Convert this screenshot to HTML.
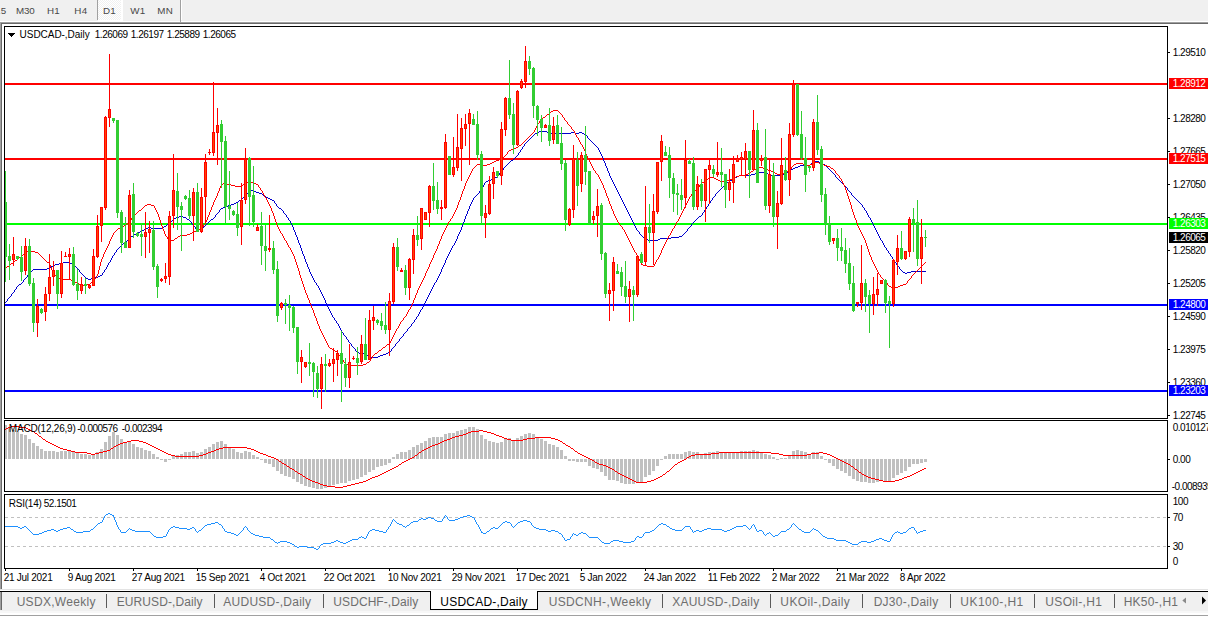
<!DOCTYPE html>
<html><head><meta charset="utf-8"><title>USDCAD-,Daily</title>
<style>
html,body{margin:0;padding:0;}
body{width:1208px;height:618px;background:#fff;position:relative;overflow:hidden;font-family:"Liberation Sans",sans-serif;}
div{position:absolute;box-sizing:border-box;}
#tb{left:0;top:0;width:1208px;height:21px;background:#f0f0f0;}
#tbl0{left:0;top:21px;width:1208px;height:1px;background:#fff;}
#tbl{left:0;top:22px;width:1208px;height:1px;background:#a0a0a0;}
#tbl2{left:0;top:23px;width:1208px;height:1px;background:#696969;}
#lft{left:0;top:23px;width:2px;height:566px;background:#696969;border-left:1px solid #a0a0a0;}
#lft2{left:0;top:592px;width:2px;height:18px;background:#696969;border-left:1px solid #a0a0a0;}
#d1{left:98px;top:0;width:25px;height:22px;background:repeating-conic-gradient(#ffffff 0% 25%,#f0f0f0 0% 50%) 0 0/2px 2px;border-right:2px solid #fff;border-bottom:2px solid #fff;}
.vs{top:0;width:1px;height:20px;background:#a0a0a0;}
.vw{top:0;width:1px;height:20px;background:#fff;}
.box{border:1px solid #000;background:transparent;}
.tk{left:1168px;width:2px;height:1px;background:#000;}
.tag{left:1169px;width:39px;height:11px;}
.t{white-space:pre;}
.dtk{top:568px;width:1px;height:3px;background:#000;}
#tabs{left:0;top:591px;width:1208px;height:20px;background:#f0f0f0;border-top:1px solid #000;}
#tabsTop{left:0px;top:589px;width:1208px;height:1px;background:#e3e3e3;}
.tsep{top:594px;width:1px;height:14px;background:#5a5a5a;}
#act{left:430px;top:591px;width:108px;height:19px;background:#fff;border:1px solid #000;border-top:none;}
#bot{left:0;top:611px;width:1208px;height:7px;background:#fff;border-top:2px solid #f7f7f7;}
#botl{left:0;top:615px;width:1208px;height:1px;background:#a0a0a0;}
svg{position:absolute;left:0;top:0;}
</style></head><body>
<div id="tb"></div><div id="tbl0"></div><div id="tbl"></div><div id="tbl2"></div>
<div id="d1"></div>
<div class="vs" style="left:97px"></div><div class="vs" style="left:180px;height:22px"></div><div class="vw" style="left:181px"></div>
<svg width="1208" height="618" viewBox="0 0 1208 618" shape-rendering="crispEdges">
<g>
<rect x="5" y="83" width="1163" height="2" fill="#ff0000"/>
<rect x="5" y="158" width="1163" height="2" fill="#ff0000"/>
<rect x="5" y="223" width="1163" height="2" fill="#00ff00"/>
<rect x="5" y="304" width="1163" height="2" fill="#0000ff"/>
<rect x="5" y="390" width="1163" height="2" fill="#0000ff"/>
</g>
<path d="M539 131h8v1h-8zM537 132h2v1h-2zM547 132h4v1h-4zM571 132h4v1h-4zM579 132h3v1h-3zM535 133h2v1h-2zM551 133h20v1h-20zM575 133h4v1h-4zM582 133h2v1h-2zM534 134h1v1h-1zM584 134h2v1h-2zM533 135h1v1h-1zM586 135h1v1h-1zM532 136h1v1h-1zM587 136h1v1h-1zM531 137h1v1h-1zM587 137h1v1h-1zM530 138h1v1h-1zM588 138h1v1h-1zM529 139h1v1h-1zM589 139h1v1h-1zM528 140h1v1h-1zM590 140h1v1h-1zM527 141h1v1h-1zM591 141h1v1h-1zM526 142h1v1h-1zM592 142h1v1h-1zM525 143h1v1h-1zM593 143h1v1h-1zM524 144h1v1h-1zM594 144h1v1h-1zM524 145h1v1h-1zM595 145h1v1h-1zM523 146h1v1h-1zM596 146h1v1h-1zM522 147h1v1h-1zM597 147h1v1h-1zM522 148h1v1h-1zM598 148h1v1h-1zM521 149h1v1h-1zM598 149h1v1h-1zM520 150h1v1h-1zM599 150h1v1h-1zM520 151h1v1h-1zM599 151h1v1h-1zM519 152h1v1h-1zM600 152h1v1h-1zM518 153h1v1h-1zM600 153h1v1h-1zM518 154h1v1h-1zM601 154h1v1h-1zM517 155h1v1h-1zM601 155h1v1h-1zM516 156h1v1h-1zM602 156h1v1h-1zM515 157h1v1h-1zM602 157h1v1h-1zM514 158h1v1h-1zM603 158h1v1h-1zM513 159h1v1h-1zM603 159h1v1h-1zM511 160h2v1h-2zM603 160h1v1h-1zM510 161h1v1h-1zM604 161h1v1h-1zM813 161h6v1h-6zM509 162h1v1h-1zM604 162h1v1h-1zM812 162h1v1h-1zM819 162h3v1h-3zM508 163h1v1h-1zM605 163h1v1h-1zM811 163h1v1h-1zM822 163h1v1h-1zM507 164h1v1h-1zM605 164h1v1h-1zM810 164h1v1h-1zM823 164h2v1h-2zM506 165h1v1h-1zM605 165h1v1h-1zM800 165h10v1h-10zM825 165h1v1h-1zM505 166h1v1h-1zM606 166h1v1h-1zM798 166h2v1h-2zM826 166h1v1h-1zM504 167h1v1h-1zM606 167h1v1h-1zM795 167h3v1h-3zM827 167h1v1h-1zM503 168h1v1h-1zM607 168h1v1h-1zM793 168h2v1h-2zM828 168h1v1h-1zM503 169h1v1h-1zM607 169h1v1h-1zM791 169h2v1h-2zM829 169h1v1h-1zM502 170h1v1h-1zM607 170h1v1h-1zM790 170h1v1h-1zM830 170h1v1h-1zM501 171h1v1h-1zM608 171h1v1h-1zM788 171h2v1h-2zM831 171h1v1h-1zM500 172h1v1h-1zM608 172h1v1h-1zM759 172h7v1h-7zM786 172h2v1h-2zM832 172h1v1h-1zM499 173h1v1h-1zM609 173h1v1h-1zM755 173h4v1h-4zM766 173h2v1h-2zM784 173h2v1h-2zM833 173h1v1h-1zM499 174h1v1h-1zM609 174h1v1h-1zM751 174h4v1h-4zM768 174h3v1h-3zM782 174h2v1h-2zM834 174h1v1h-1zM498 175h1v1h-1zM609 175h1v1h-1zM739 175h12v1h-12zM771 175h11v1h-11zM835 175h1v1h-1zM497 176h1v1h-1zM610 176h1v1h-1zM737 176h2v1h-2zM835 176h1v1h-1zM495 177h2v1h-2zM610 177h1v1h-1zM735 177h2v1h-2zM836 177h1v1h-1zM494 178h1v1h-1zM611 178h1v1h-1zM734 178h1v1h-1zM837 178h1v1h-1zM491 179h3v1h-3zM611 179h1v1h-1zM732 179h2v1h-2zM838 179h1v1h-1zM488 180h3v1h-3zM612 180h1v1h-1zM730 180h2v1h-2zM839 180h1v1h-1zM486 181h2v1h-2zM612 181h1v1h-1zM729 181h1v1h-1zM840 181h1v1h-1zM485 182h1v1h-1zM613 182h1v1h-1zM727 182h2v1h-2zM841 182h1v1h-1zM484 183h1v1h-1zM613 183h1v1h-1zM726 183h1v1h-1zM842 183h1v1h-1zM484 184h1v1h-1zM614 184h1v1h-1zM725 184h1v1h-1zM843 184h1v1h-1zM483 185h1v1h-1zM614 185h1v1h-1zM724 185h1v1h-1zM844 185h1v1h-1zM483 186h1v1h-1zM615 186h1v1h-1zM723 186h1v1h-1zM845 186h1v1h-1zM482 187h1v1h-1zM615 187h1v1h-1zM722 187h1v1h-1zM846 187h1v1h-1zM482 188h1v1h-1zM616 188h1v1h-1zM721 188h1v1h-1zM847 188h1v1h-1zM481 189h1v1h-1zM616 189h1v1h-1zM720 189h1v1h-1zM847 189h1v1h-1zM251 190h3v1h-3zM480 190h1v1h-1zM617 190h1v1h-1zM719 190h1v1h-1zM848 190h1v1h-1zM249 191h2v1h-2zM254 191h2v1h-2zM479 191h1v1h-1zM617 191h1v1h-1zM718 191h1v1h-1zM849 191h1v1h-1zM248 192h1v1h-1zM256 192h3v1h-3zM479 192h1v1h-1zM618 192h1v1h-1zM717 192h1v1h-1zM850 192h1v1h-1zM247 193h1v1h-1zM259 193h3v1h-3zM478 193h1v1h-1zM618 193h1v1h-1zM716 193h1v1h-1zM851 193h1v1h-1zM246 194h1v1h-1zM262 194h1v1h-1zM477 194h1v1h-1zM619 194h1v1h-1zM715 194h1v1h-1zM851 194h1v1h-1zM245 195h1v1h-1zM263 195h2v1h-2zM476 195h1v1h-1zM619 195h1v1h-1zM715 195h1v1h-1zM852 195h1v1h-1zM244 196h1v1h-1zM265 196h1v1h-1zM475 196h1v1h-1zM620 196h1v1h-1zM714 196h1v1h-1zM853 196h1v1h-1zM243 197h1v1h-1zM266 197h2v1h-2zM474 197h1v1h-1zM620 197h1v1h-1zM713 197h1v1h-1zM854 197h1v1h-1zM242 198h1v1h-1zM268 198h2v1h-2zM473 198h1v1h-1zM621 198h1v1h-1zM712 198h1v1h-1zM855 198h1v1h-1zM241 199h1v1h-1zM270 199h2v1h-2zM473 199h1v1h-1zM621 199h1v1h-1zM712 199h1v1h-1zM856 199h1v1h-1zM239 200h2v1h-2zM272 200h2v1h-2zM472 200h1v1h-1zM622 200h1v1h-1zM711 200h1v1h-1zM857 200h1v1h-1zM238 201h1v1h-1zM274 201h1v1h-1zM472 201h1v1h-1zM622 201h1v1h-1zM710 201h1v1h-1zM858 201h1v1h-1zM236 202h2v1h-2zM274 202h1v1h-1zM471 202h1v1h-1zM623 202h1v1h-1zM710 202h1v1h-1zM859 202h1v1h-1zM234 203h2v1h-2zM275 203h1v1h-1zM471 203h1v1h-1zM623 203h1v1h-1zM709 203h1v1h-1zM860 203h1v1h-1zM231 204h3v1h-3zM276 204h1v1h-1zM470 204h1v1h-1zM624 204h1v1h-1zM708 204h1v1h-1zM861 204h1v1h-1zM228 205h3v1h-3zM276 205h1v1h-1zM470 205h1v1h-1zM624 205h1v1h-1zM708 205h1v1h-1zM862 205h1v1h-1zM226 206h2v1h-2zM277 206h1v1h-1zM469 206h1v1h-1zM625 206h1v1h-1zM707 206h1v1h-1zM862 206h1v1h-1zM223 207h3v1h-3zM278 207h1v1h-1zM469 207h1v1h-1zM625 207h1v1h-1zM706 207h1v1h-1zM863 207h1v1h-1zM221 208h2v1h-2zM279 208h2v1h-2zM469 208h1v1h-1zM626 208h1v1h-1zM706 208h1v1h-1zM864 208h1v1h-1zM220 209h1v1h-1zM281 209h1v1h-1zM468 209h1v1h-1zM626 209h1v1h-1zM705 209h1v1h-1zM864 209h1v1h-1zM219 210h1v1h-1zM282 210h1v1h-1zM468 210h1v1h-1zM627 210h1v1h-1zM704 210h1v1h-1zM865 210h1v1h-1zM219 211h1v1h-1zM283 211h1v1h-1zM467 211h1v1h-1zM627 211h1v1h-1zM704 211h1v1h-1zM866 211h1v1h-1zM218 212h1v1h-1zM283 212h1v1h-1zM467 212h1v1h-1zM628 212h1v1h-1zM703 212h1v1h-1zM866 212h1v1h-1zM217 213h1v1h-1zM284 213h1v1h-1zM467 213h1v1h-1zM628 213h1v1h-1zM702 213h1v1h-1zM867 213h1v1h-1zM216 214h1v1h-1zM285 214h1v1h-1zM466 214h1v1h-1zM629 214h1v1h-1zM702 214h1v1h-1zM867 214h1v1h-1zM215 215h1v1h-1zM286 215h1v1h-1zM466 215h1v1h-1zM629 215h1v1h-1zM701 215h1v1h-1zM868 215h1v1h-1zM179 216h4v1h-4zM215 216h1v1h-1zM286 216h1v1h-1zM465 216h1v1h-1zM630 216h1v1h-1zM699 216h2v1h-2zM868 216h1v1h-1zM176 217h3v1h-3zM183 217h3v1h-3zM214 217h1v1h-1zM287 217h1v1h-1zM465 217h1v1h-1zM630 217h1v1h-1zM698 217h1v1h-1zM869 217h1v1h-1zM174 218h2v1h-2zM186 218h1v1h-1zM213 218h1v1h-1zM288 218h1v1h-1zM465 218h1v1h-1zM631 218h1v1h-1zM697 218h1v1h-1zM870 218h1v1h-1zM173 219h1v1h-1zM187 219h2v1h-2zM211 219h2v1h-2zM288 219h1v1h-1zM464 219h1v1h-1zM631 219h1v1h-1zM696 219h1v1h-1zM870 219h1v1h-1zM172 220h1v1h-1zM189 220h1v1h-1zM210 220h1v1h-1zM289 220h1v1h-1zM464 220h1v1h-1zM632 220h1v1h-1zM695 220h1v1h-1zM871 220h1v1h-1zM171 221h1v1h-1zM190 221h1v1h-1zM209 221h1v1h-1zM290 221h1v1h-1zM464 221h1v1h-1zM632 221h1v1h-1zM694 221h1v1h-1zM871 221h1v1h-1zM170 222h1v1h-1zM191 222h1v1h-1zM208 222h1v1h-1zM290 222h1v1h-1zM463 222h1v1h-1zM633 222h1v1h-1zM693 222h1v1h-1zM872 222h1v1h-1zM169 223h1v1h-1zM191 223h1v1h-1zM207 223h1v1h-1zM291 223h1v1h-1zM463 223h1v1h-1zM633 223h1v1h-1zM692 223h1v1h-1zM872 223h1v1h-1zM167 224h2v1h-2zM192 224h1v1h-1zM206 224h1v1h-1zM291 224h1v1h-1zM462 224h1v1h-1zM634 224h1v1h-1zM691 224h1v1h-1zM873 224h1v1h-1zM166 225h1v1h-1zM193 225h1v1h-1zM205 225h1v1h-1zM292 225h1v1h-1zM462 225h1v1h-1zM634 225h1v1h-1zM691 225h1v1h-1zM873 225h1v1h-1zM164 226h2v1h-2zM194 226h1v1h-1zM204 226h1v1h-1zM292 226h1v1h-1zM462 226h1v1h-1zM635 226h1v1h-1zM690 226h1v1h-1zM874 226h1v1h-1zM148 227h3v1h-3zM162 227h2v1h-2zM195 227h1v1h-1zM203 227h1v1h-1zM293 227h1v1h-1zM461 227h1v1h-1zM635 227h1v1h-1zM689 227h1v1h-1zM874 227h1v1h-1zM146 228h2v1h-2zM151 228h11v1h-11zM195 228h1v1h-1zM202 228h1v1h-1zM293 228h1v1h-1zM461 228h1v1h-1zM636 228h1v1h-1zM688 228h1v1h-1zM875 228h1v1h-1zM144 229h2v1h-2zM196 229h1v1h-1zM199 229h3v1h-3zM293 229h1v1h-1zM461 229h1v1h-1zM636 229h1v1h-1zM687 229h1v1h-1zM875 229h1v1h-1zM142 230h2v1h-2zM197 230h2v1h-2zM294 230h1v1h-1zM460 230h1v1h-1zM637 230h1v1h-1zM687 230h1v1h-1zM876 230h1v1h-1zM140 231h2v1h-2zM294 231h1v1h-1zM460 231h1v1h-1zM638 231h1v1h-1zM686 231h1v1h-1zM876 231h1v1h-1zM138 232h2v1h-2zM295 232h1v1h-1zM459 232h1v1h-1zM639 232h1v1h-1zM685 232h1v1h-1zM877 232h1v1h-1zM136 233h2v1h-2zM295 233h1v1h-1zM459 233h1v1h-1zM639 233h1v1h-1zM684 233h1v1h-1zM877 233h1v1h-1zM134 234h2v1h-2zM295 234h1v1h-1zM458 234h1v1h-1zM640 234h1v1h-1zM683 234h1v1h-1zM878 234h1v1h-1zM133 235h1v1h-1zM296 235h1v1h-1zM458 235h1v1h-1zM641 235h1v1h-1zM682 235h1v1h-1zM878 235h1v1h-1zM131 236h2v1h-2zM296 236h1v1h-1zM457 236h1v1h-1zM642 236h1v1h-1zM679 236h3v1h-3zM879 236h1v1h-1zM130 237h1v1h-1zM297 237h1v1h-1zM457 237h1v1h-1zM643 237h2v1h-2zM671 237h8v1h-8zM879 237h1v1h-1zM129 238h1v1h-1zM297 238h1v1h-1zM457 238h1v1h-1zM645 238h1v1h-1zM660 238h11v1h-11zM880 238h1v1h-1zM128 239h1v1h-1zM297 239h1v1h-1zM456 239h1v1h-1zM646 239h2v1h-2zM658 239h2v1h-2zM880 239h1v1h-1zM127 240h1v1h-1zM298 240h1v1h-1zM456 240h1v1h-1zM648 240h10v1h-10zM881 240h1v1h-1zM126 241h1v1h-1zM298 241h1v1h-1zM455 241h1v1h-1zM882 241h1v1h-1zM125 242h1v1h-1zM298 242h1v1h-1zM455 242h1v1h-1zM882 242h1v1h-1zM123 243h2v1h-2zM299 243h1v1h-1zM454 243h1v1h-1zM883 243h1v1h-1zM122 244h1v1h-1zM299 244h1v1h-1zM454 244h1v1h-1zM883 244h1v1h-1zM121 245h1v1h-1zM300 245h1v1h-1zM453 245h1v1h-1zM884 245h1v1h-1zM120 246h1v1h-1zM300 246h1v1h-1zM452 246h1v1h-1zM884 246h1v1h-1zM119 247h1v1h-1zM300 247h1v1h-1zM452 247h1v1h-1zM885 247h1v1h-1zM118 248h1v1h-1zM301 248h1v1h-1zM451 248h1v1h-1zM886 248h1v1h-1zM117 249h1v1h-1zM301 249h1v1h-1zM451 249h1v1h-1zM886 249h1v1h-1zM116 250h1v1h-1zM301 250h1v1h-1zM450 250h1v1h-1zM887 250h1v1h-1zM116 251h1v1h-1zM302 251h1v1h-1zM450 251h1v1h-1zM888 251h1v1h-1zM115 252h1v1h-1zM302 252h1v1h-1zM449 252h1v1h-1zM888 252h1v1h-1zM114 253h1v1h-1zM302 253h1v1h-1zM449 253h1v1h-1zM889 253h1v1h-1zM114 254h1v1h-1zM303 254h1v1h-1zM448 254h1v1h-1zM890 254h1v1h-1zM113 255h1v1h-1zM303 255h1v1h-1zM448 255h1v1h-1zM890 255h1v1h-1zM112 256h1v1h-1zM304 256h1v1h-1zM447 256h1v1h-1zM891 256h1v1h-1zM112 257h1v1h-1zM304 257h1v1h-1zM447 257h1v1h-1zM892 257h1v1h-1zM111 258h1v1h-1zM304 258h1v1h-1zM446 258h1v1h-1zM892 258h1v1h-1zM111 259h1v1h-1zM305 259h1v1h-1zM446 259h1v1h-1zM893 259h1v1h-1zM110 260h1v1h-1zM305 260h1v1h-1zM445 260h1v1h-1zM894 260h1v1h-1zM110 261h1v1h-1zM305 261h1v1h-1zM445 261h1v1h-1zM894 261h1v1h-1zM63 262h7v1h-7zM109 262h1v1h-1zM306 262h1v1h-1zM445 262h1v1h-1zM895 262h1v1h-1zM59 263h4v1h-4zM70 263h2v1h-2zM108 263h1v1h-1zM306 263h1v1h-1zM444 263h1v1h-1zM896 263h1v1h-1zM55 264h4v1h-4zM72 264h2v1h-2zM108 264h1v1h-1zM307 264h1v1h-1zM444 264h1v1h-1zM896 264h1v1h-1zM53 265h2v1h-2zM74 265h1v1h-1zM107 265h1v1h-1zM307 265h1v1h-1zM443 265h1v1h-1zM897 265h1v1h-1zM51 266h2v1h-2zM75 266h1v1h-1zM107 266h1v1h-1zM307 266h1v1h-1zM443 266h1v1h-1zM898 266h1v1h-1zM50 267h1v1h-1zM76 267h1v1h-1zM106 267h1v1h-1zM308 267h1v1h-1zM442 267h1v1h-1zM899 267h1v1h-1zM47 268h3v1h-3zM77 268h1v1h-1zM106 268h1v1h-1zM308 268h1v1h-1zM442 268h1v1h-1zM899 268h1v1h-1zM33 269h14v1h-14zM78 269h1v1h-1zM105 269h1v1h-1zM309 269h1v1h-1zM441 269h1v1h-1zM900 269h1v1h-1zM32 270h1v1h-1zM79 270h1v1h-1zM104 270h1v1h-1zM309 270h1v1h-1zM441 270h1v1h-1zM901 270h1v1h-1zM31 271h1v1h-1zM79 271h1v1h-1zM104 271h1v1h-1zM309 271h1v1h-1zM441 271h1v1h-1zM902 271h1v1h-1zM911 271h15v1h-15zM30 272h1v1h-1zM80 272h1v1h-1zM103 272h1v1h-1zM310 272h1v1h-1zM440 272h1v1h-1zM903 272h2v1h-2zM907 272h4v1h-4zM29 273h1v1h-1zM81 273h1v1h-1zM102 273h1v1h-1zM310 273h1v1h-1zM440 273h1v1h-1zM905 273h2v1h-2zM28 274h1v1h-1zM82 274h1v1h-1zM102 274h1v1h-1zM311 274h1v1h-1zM439 274h1v1h-1zM27 275h1v1h-1zM83 275h1v1h-1zM100 275h2v1h-2zM311 275h1v1h-1zM439 275h1v1h-1zM27 276h1v1h-1zM84 276h1v1h-1zM98 276h2v1h-2zM312 276h1v1h-1zM438 276h1v1h-1zM26 277h1v1h-1zM85 277h1v1h-1zM95 277h3v1h-3zM312 277h1v1h-1zM438 277h1v1h-1zM25 278h1v1h-1zM86 278h2v1h-2zM91 278h4v1h-4zM313 278h1v1h-1zM437 278h1v1h-1zM24 279h1v1h-1zM88 279h3v1h-3zM313 279h1v1h-1zM437 279h1v1h-1zM23 280h1v1h-1zM314 280h1v1h-1zM436 280h1v1h-1zM23 281h1v1h-1zM314 281h1v1h-1zM436 281h1v1h-1zM22 282h1v1h-1zM315 282h1v1h-1zM435 282h1v1h-1zM21 283h1v1h-1zM316 283h1v1h-1zM434 283h1v1h-1zM19 284h2v1h-2zM316 284h1v1h-1zM434 284h1v1h-1zM18 285h1v1h-1zM317 285h1v1h-1zM433 285h1v1h-1zM17 286h1v1h-1zM318 286h1v1h-1zM433 286h1v1h-1zM16 287h1v1h-1zM318 287h1v1h-1zM432 287h1v1h-1zM16 288h1v1h-1zM319 288h1v1h-1zM432 288h1v1h-1zM15 289h1v1h-1zM319 289h1v1h-1zM431 289h1v1h-1zM14 290h1v1h-1zM320 290h1v1h-1zM431 290h1v1h-1zM14 291h1v1h-1zM320 291h1v1h-1zM430 291h1v1h-1zM13 292h1v1h-1zM321 292h1v1h-1zM430 292h1v1h-1zM12 293h1v1h-1zM321 293h1v1h-1zM429 293h1v1h-1zM11 294h1v1h-1zM322 294h1v1h-1zM429 294h1v1h-1zM11 295h1v1h-1zM322 295h1v1h-1zM428 295h1v1h-1zM10 296h1v1h-1zM323 296h1v1h-1zM428 296h1v1h-1zM9 297h1v1h-1zM323 297h1v1h-1zM427 297h1v1h-1zM8 298h1v1h-1zM324 298h1v1h-1zM427 298h1v1h-1zM7 299h1v1h-1zM324 299h1v1h-1zM426 299h1v1h-1zM7 300h1v1h-1zM325 300h1v1h-1zM426 300h1v1h-1zM6 301h1v1h-1zM325 301h1v1h-1zM425 301h1v1h-1zM5 302h1v1h-1zM325 302h1v1h-1zM425 302h1v1h-1zM326 303h1v1h-1zM424 303h1v1h-1zM326 304h1v1h-1zM424 304h1v1h-1zM327 305h1v1h-1zM423 305h1v1h-1zM327 306h1v1h-1zM423 306h1v1h-1zM328 307h1v1h-1zM422 307h1v1h-1zM328 308h1v1h-1zM422 308h1v1h-1zM329 309h1v1h-1zM421 309h1v1h-1zM329 310h1v1h-1zM420 310h1v1h-1zM330 311h1v1h-1zM420 311h1v1h-1zM330 312h1v1h-1zM419 312h1v1h-1zM331 313h1v1h-1zM419 313h1v1h-1zM331 314h1v1h-1zM418 314h1v1h-1zM332 315h1v1h-1zM418 315h1v1h-1zM332 316h1v1h-1zM417 316h1v1h-1zM333 317h1v1h-1zM416 317h1v1h-1zM334 318h1v1h-1zM416 318h1v1h-1zM334 319h1v1h-1zM415 319h1v1h-1zM335 320h1v1h-1zM414 320h1v1h-1zM336 321h1v1h-1zM414 321h1v1h-1zM336 322h1v1h-1zM413 322h1v1h-1zM337 323h1v1h-1zM412 323h1v1h-1zM338 324h1v1h-1zM411 324h1v1h-1zM338 325h1v1h-1zM411 325h1v1h-1zM339 326h1v1h-1zM410 326h1v1h-1zM339 327h1v1h-1zM409 327h1v1h-1zM340 328h1v1h-1zM408 328h1v1h-1zM340 329h1v1h-1zM407 329h1v1h-1zM341 330h1v1h-1zM407 330h1v1h-1zM341 331h1v1h-1zM406 331h1v1h-1zM342 332h1v1h-1zM405 332h1v1h-1zM343 333h1v1h-1zM404 333h1v1h-1zM343 334h1v1h-1zM403 334h1v1h-1zM344 335h1v1h-1zM403 335h1v1h-1zM345 336h1v1h-1zM402 336h1v1h-1zM346 337h1v1h-1zM401 337h1v1h-1zM346 338h1v1h-1zM400 338h1v1h-1zM347 339h1v1h-1zM399 339h1v1h-1zM348 340h1v1h-1zM399 340h1v1h-1zM348 341h1v1h-1zM398 341h1v1h-1zM349 342h1v1h-1zM397 342h1v1h-1zM350 343h1v1h-1zM396 343h1v1h-1zM351 344h1v1h-1zM395 344h1v1h-1zM351 345h1v1h-1zM395 345h1v1h-1zM352 346h1v1h-1zM394 346h1v1h-1zM353 347h1v1h-1zM393 347h1v1h-1zM354 348h1v1h-1zM392 348h1v1h-1zM355 349h1v1h-1zM391 349h1v1h-1zM355 350h1v1h-1zM391 350h1v1h-1zM356 351h1v1h-1zM390 351h1v1h-1zM357 352h2v1h-2zM388 352h2v1h-2zM359 353h7v1h-7zM386 353h2v1h-2zM366 354h1v1h-1zM383 354h3v1h-3zM367 355h1v1h-1zM380 355h3v1h-3zM368 356h1v1h-1zM378 356h2v1h-2zM369 357h9v1h-9z" fill="#0000cd"/>
<path d="M553 110h5v1h-5zM551 111h2v1h-2zM558 111h1v1h-1zM550 112h1v1h-1zM559 112h1v1h-1zM549 113h1v1h-1zM560 113h1v1h-1zM547 114h2v1h-2zM561 114h1v1h-1zM546 115h1v1h-1zM562 115h1v1h-1zM545 116h1v1h-1zM562 116h1v1h-1zM543 117h2v1h-2zM563 117h1v1h-1zM542 118h1v1h-1zM564 118h1v1h-1zM541 119h1v1h-1zM564 119h1v1h-1zM540 120h1v1h-1zM565 120h1v1h-1zM539 121h1v1h-1zM566 121h1v1h-1zM539 122h1v1h-1zM567 122h1v1h-1zM538 123h1v1h-1zM567 123h1v1h-1zM537 124h1v1h-1zM568 124h1v1h-1zM537 125h1v1h-1zM569 125h1v1h-1zM536 126h1v1h-1zM570 126h1v1h-1zM536 127h1v1h-1zM571 127h1v1h-1zM535 128h1v1h-1zM571 128h1v1h-1zM535 129h1v1h-1zM572 129h1v1h-1zM534 130h1v1h-1zM573 130h1v1h-1zM534 131h1v1h-1zM574 131h1v1h-1zM533 132h1v1h-1zM574 132h1v1h-1zM532 133h1v1h-1zM575 133h1v1h-1zM531 134h1v1h-1zM575 134h1v1h-1zM530 135h1v1h-1zM576 135h1v1h-1zM529 136h1v1h-1zM576 136h1v1h-1zM528 137h1v1h-1zM577 137h1v1h-1zM527 138h1v1h-1zM578 138h1v1h-1zM526 139h1v1h-1zM578 139h1v1h-1zM525 140h1v1h-1zM579 140h1v1h-1zM524 141h1v1h-1zM579 141h1v1h-1zM523 142h1v1h-1zM580 142h1v1h-1zM522 143h1v1h-1zM580 143h1v1h-1zM521 144h1v1h-1zM581 144h1v1h-1zM519 145h2v1h-2zM582 145h1v1h-1zM518 146h1v1h-1zM582 146h1v1h-1zM516 147h2v1h-2zM583 147h1v1h-1zM514 148h2v1h-2zM583 148h1v1h-1zM511 149h3v1h-3zM584 149h1v1h-1zM509 150h2v1h-2zM584 150h1v1h-1zM508 151h1v1h-1zM585 151h1v1h-1zM507 152h1v1h-1zM585 152h1v1h-1zM507 153h1v1h-1zM585 153h1v1h-1zM506 154h1v1h-1zM586 154h1v1h-1zM505 155h1v1h-1zM586 155h1v1h-1zM504 156h1v1h-1zM587 156h1v1h-1zM503 157h1v1h-1zM587 157h1v1h-1zM502 158h1v1h-1zM588 158h1v1h-1zM499 159h3v1h-3zM588 159h1v1h-1zM496 160h3v1h-3zM589 160h1v1h-1zM494 161h2v1h-2zM589 161h1v1h-1zM492 162h2v1h-2zM590 162h1v1h-1zM815 162h4v1h-4zM490 163h2v1h-2zM590 163h1v1h-1zM796 163h7v1h-7zM812 163h3v1h-3zM819 163h3v1h-3zM477 164h6v1h-6zM487 164h3v1h-3zM591 164h1v1h-1zM794 164h2v1h-2zM803 164h4v1h-4zM810 164h2v1h-2zM822 164h2v1h-2zM476 165h1v1h-1zM483 165h4v1h-4zM591 165h1v1h-1zM793 165h1v1h-1zM807 165h3v1h-3zM824 165h3v1h-3zM475 166h1v1h-1zM592 166h1v1h-1zM792 166h1v1h-1zM827 166h3v1h-3zM474 167h1v1h-1zM592 167h1v1h-1zM759 167h4v1h-4zM791 167h1v1h-1zM830 167h1v1h-1zM473 168h1v1h-1zM593 168h1v1h-1zM756 168h3v1h-3zM763 168h3v1h-3zM791 168h1v1h-1zM831 168h2v1h-2zM472 169h1v1h-1zM593 169h1v1h-1zM754 169h2v1h-2zM766 169h2v1h-2zM790 169h1v1h-1zM833 169h1v1h-1zM472 170h1v1h-1zM594 170h1v1h-1zM753 170h1v1h-1zM768 170h3v1h-3zM788 170h2v1h-2zM834 170h1v1h-1zM471 171h1v1h-1zM595 171h1v1h-1zM751 171h2v1h-2zM771 171h3v1h-3zM786 171h2v1h-2zM835 171h1v1h-1zM471 172h1v1h-1zM595 172h1v1h-1zM750 172h1v1h-1zM774 172h1v1h-1zM784 172h2v1h-2zM835 172h1v1h-1zM470 173h1v1h-1zM596 173h1v1h-1zM748 173h2v1h-2zM775 173h2v1h-2zM782 173h2v1h-2zM836 173h1v1h-1zM470 174h1v1h-1zM597 174h1v1h-1zM746 174h2v1h-2zM777 174h5v1h-5zM837 174h1v1h-1zM469 175h1v1h-1zM598 175h1v1h-1zM739 175h7v1h-7zM838 175h1v1h-1zM469 176h1v1h-1zM598 176h1v1h-1zM736 176h3v1h-3zM839 176h1v1h-1zM468 177h1v1h-1zM599 177h1v1h-1zM709 177h5v1h-5zM734 177h2v1h-2zM839 177h1v1h-1zM468 178h1v1h-1zM599 178h1v1h-1zM708 178h1v1h-1zM714 178h2v1h-2zM732 178h2v1h-2zM840 178h1v1h-1zM467 179h1v1h-1zM600 179h1v1h-1zM707 179h1v1h-1zM716 179h2v1h-2zM730 179h2v1h-2zM841 179h1v1h-1zM467 180h1v1h-1zM600 180h1v1h-1zM706 180h1v1h-1zM718 180h2v1h-2zM727 180h3v1h-3zM841 180h1v1h-1zM466 181h1v1h-1zM601 181h1v1h-1zM704 181h2v1h-2zM720 181h7v1h-7zM842 181h1v1h-1zM247 182h7v1h-7zM466 182h1v1h-1zM601 182h1v1h-1zM702 182h2v1h-2zM842 182h1v1h-1zM223 183h4v1h-4zM245 183h2v1h-2zM254 183h2v1h-2zM465 183h1v1h-1zM602 183h1v1h-1zM701 183h1v1h-1zM843 183h1v1h-1zM221 184h2v1h-2zM227 184h4v1h-4zM243 184h2v1h-2zM256 184h2v1h-2zM465 184h1v1h-1zM602 184h1v1h-1zM700 184h1v1h-1zM843 184h1v1h-1zM221 185h1v1h-1zM231 185h4v1h-4zM242 185h1v1h-1zM258 185h1v1h-1zM465 185h1v1h-1zM603 185h1v1h-1zM699 185h1v1h-1zM844 185h1v1h-1zM220 186h1v1h-1zM235 186h7v1h-7zM258 186h1v1h-1zM464 186h1v1h-1zM603 186h1v1h-1zM699 186h1v1h-1zM844 186h1v1h-1zM220 187h1v1h-1zM259 187h1v1h-1zM464 187h1v1h-1zM603 187h1v1h-1zM698 187h1v1h-1zM845 187h1v1h-1zM219 188h1v1h-1zM260 188h1v1h-1zM464 188h1v1h-1zM604 188h1v1h-1zM697 188h1v1h-1zM845 188h1v1h-1zM219 189h1v1h-1zM260 189h1v1h-1zM463 189h1v1h-1zM604 189h1v1h-1zM696 189h1v1h-1zM845 189h1v1h-1zM219 190h1v1h-1zM261 190h1v1h-1zM463 190h1v1h-1zM605 190h1v1h-1zM695 190h1v1h-1zM846 190h1v1h-1zM218 191h1v1h-1zM262 191h1v1h-1zM462 191h1v1h-1zM605 191h1v1h-1zM694 191h1v1h-1zM846 191h1v1h-1zM218 192h1v1h-1zM262 192h1v1h-1zM462 192h1v1h-1zM605 192h1v1h-1zM693 192h1v1h-1zM846 192h1v1h-1zM217 193h1v1h-1zM263 193h1v1h-1zM462 193h1v1h-1zM606 193h1v1h-1zM692 193h1v1h-1zM847 193h1v1h-1zM217 194h1v1h-1zM263 194h1v1h-1zM461 194h1v1h-1zM606 194h1v1h-1zM691 194h1v1h-1zM847 194h1v1h-1zM217 195h1v1h-1zM264 195h1v1h-1zM461 195h1v1h-1zM606 195h1v1h-1zM691 195h1v1h-1zM847 195h1v1h-1zM216 196h1v1h-1zM264 196h1v1h-1zM461 196h1v1h-1zM607 196h1v1h-1zM690 196h1v1h-1zM848 196h1v1h-1zM216 197h1v1h-1zM265 197h1v1h-1zM460 197h1v1h-1zM607 197h1v1h-1zM689 197h1v1h-1zM848 197h1v1h-1zM215 198h1v1h-1zM266 198h1v1h-1zM460 198h1v1h-1zM608 198h1v1h-1zM689 198h1v1h-1zM848 198h1v1h-1zM215 199h1v1h-1zM266 199h1v1h-1zM460 199h1v1h-1zM608 199h1v1h-1zM688 199h1v1h-1zM849 199h1v1h-1zM214 200h1v1h-1zM267 200h1v1h-1zM459 200h1v1h-1zM608 200h1v1h-1zM688 200h1v1h-1zM849 200h1v1h-1zM214 201h1v1h-1zM267 201h1v1h-1zM459 201h1v1h-1zM609 201h1v1h-1zM687 201h1v1h-1zM849 201h1v1h-1zM213 202h1v1h-1zM268 202h1v1h-1zM458 202h1v1h-1zM609 202h1v1h-1zM687 202h1v1h-1zM850 202h1v1h-1zM213 203h1v1h-1zM268 203h1v1h-1zM458 203h1v1h-1zM609 203h1v1h-1zM686 203h1v1h-1zM850 203h1v1h-1zM147 204h4v1h-4zM213 204h1v1h-1zM269 204h1v1h-1zM458 204h1v1h-1zM610 204h1v1h-1zM686 204h1v1h-1zM850 204h1v1h-1zM145 205h2v1h-2zM151 205h3v1h-3zM212 205h1v1h-1zM269 205h1v1h-1zM457 205h1v1h-1zM610 205h1v1h-1zM685 205h1v1h-1zM851 205h1v1h-1zM144 206h1v1h-1zM154 206h1v1h-1zM212 206h1v1h-1zM270 206h1v1h-1zM457 206h1v1h-1zM611 206h1v1h-1zM685 206h1v1h-1zM851 206h1v1h-1zM143 207h1v1h-1zM154 207h1v1h-1zM211 207h1v1h-1zM270 207h1v1h-1zM457 207h1v1h-1zM611 207h1v1h-1zM684 207h1v1h-1zM851 207h1v1h-1zM142 208h1v1h-1zM155 208h1v1h-1zM211 208h1v1h-1zM271 208h1v1h-1zM456 208h1v1h-1zM611 208h1v1h-1zM684 208h1v1h-1zM851 208h1v1h-1zM141 209h1v1h-1zM155 209h1v1h-1zM211 209h1v1h-1zM271 209h1v1h-1zM456 209h1v1h-1zM612 209h1v1h-1zM683 209h1v1h-1zM852 209h1v1h-1zM139 210h2v1h-2zM156 210h1v1h-1zM210 210h1v1h-1zM271 210h1v1h-1zM455 210h1v1h-1zM612 210h1v1h-1zM683 210h1v1h-1zM852 210h1v1h-1zM138 211h1v1h-1zM156 211h1v1h-1zM210 211h1v1h-1zM272 211h1v1h-1zM455 211h1v1h-1zM613 211h1v1h-1zM682 211h1v1h-1zM852 211h1v1h-1zM137 212h1v1h-1zM157 212h1v1h-1zM209 212h1v1h-1zM272 212h1v1h-1zM454 212h1v1h-1zM613 212h1v1h-1zM682 212h1v1h-1zM853 212h1v1h-1zM136 213h1v1h-1zM157 213h1v1h-1zM209 213h1v1h-1zM273 213h1v1h-1zM454 213h1v1h-1zM613 213h1v1h-1zM681 213h1v1h-1zM853 213h1v1h-1zM135 214h1v1h-1zM158 214h1v1h-1zM209 214h1v1h-1zM273 214h1v1h-1zM453 214h1v1h-1zM614 214h1v1h-1zM681 214h1v1h-1zM853 214h1v1h-1zM134 215h1v1h-1zM158 215h1v1h-1zM208 215h1v1h-1zM273 215h1v1h-1zM453 215h1v1h-1zM614 215h1v1h-1zM680 215h1v1h-1zM854 215h1v1h-1zM133 216h1v1h-1zM158 216h1v1h-1zM208 216h1v1h-1zM274 216h1v1h-1zM452 216h1v1h-1zM615 216h1v1h-1zM680 216h1v1h-1zM854 216h1v1h-1zM132 217h1v1h-1zM159 217h1v1h-1zM207 217h1v1h-1zM274 217h1v1h-1zM452 217h1v1h-1zM615 217h1v1h-1zM679 217h1v1h-1zM854 217h1v1h-1zM131 218h1v1h-1zM159 218h1v1h-1zM207 218h1v1h-1zM274 218h1v1h-1zM451 218h1v1h-1zM616 218h1v1h-1zM679 218h1v1h-1zM855 218h1v1h-1zM131 219h1v1h-1zM159 219h1v1h-1zM207 219h1v1h-1zM275 219h1v1h-1zM450 219h1v1h-1zM616 219h1v1h-1zM678 219h1v1h-1zM855 219h1v1h-1zM130 220h1v1h-1zM160 220h1v1h-1zM206 220h1v1h-1zM275 220h1v1h-1zM450 220h1v1h-1zM617 220h1v1h-1zM678 220h1v1h-1zM856 220h1v1h-1zM129 221h1v1h-1zM160 221h1v1h-1zM206 221h1v1h-1zM275 221h1v1h-1zM449 221h1v1h-1zM617 221h1v1h-1zM677 221h1v1h-1zM856 221h1v1h-1zM128 222h1v1h-1zM160 222h1v1h-1zM205 222h1v1h-1zM276 222h1v1h-1zM448 222h1v1h-1zM618 222h1v1h-1zM676 222h1v1h-1zM856 222h1v1h-1zM127 223h1v1h-1zM161 223h1v1h-1zM205 223h1v1h-1zM276 223h1v1h-1zM448 223h1v1h-1zM619 223h1v1h-1zM676 223h1v1h-1zM857 223h1v1h-1zM126 224h1v1h-1zM161 224h1v1h-1zM204 224h1v1h-1zM276 224h1v1h-1zM447 224h1v1h-1zM619 224h1v1h-1zM675 224h1v1h-1zM857 224h1v1h-1zM124 225h2v1h-2zM161 225h1v1h-1zM203 225h1v1h-1zM277 225h1v1h-1zM447 225h1v1h-1zM620 225h1v1h-1zM675 225h1v1h-1zM857 225h1v1h-1zM122 226h2v1h-2zM162 226h1v1h-1zM203 226h1v1h-1zM277 226h1v1h-1zM446 226h1v1h-1zM621 226h1v1h-1zM674 226h1v1h-1zM858 226h1v1h-1zM120 227h2v1h-2zM162 227h1v1h-1zM202 227h1v1h-1zM278 227h1v1h-1zM446 227h1v1h-1zM622 227h1v1h-1zM674 227h1v1h-1zM858 227h1v1h-1zM118 228h2v1h-2zM162 228h1v1h-1zM200 228h2v1h-2zM278 228h1v1h-1zM445 228h1v1h-1zM622 228h1v1h-1zM673 228h1v1h-1zM859 228h1v1h-1zM117 229h1v1h-1zM163 229h1v1h-1zM198 229h2v1h-2zM279 229h1v1h-1zM445 229h1v1h-1zM623 229h1v1h-1zM672 229h1v1h-1zM859 229h1v1h-1zM116 230h1v1h-1zM163 230h1v1h-1zM196 230h2v1h-2zM279 230h1v1h-1zM444 230h1v1h-1zM624 230h1v1h-1zM672 230h1v1h-1zM860 230h1v1h-1zM115 231h1v1h-1zM164 231h1v1h-1zM194 231h2v1h-2zM280 231h1v1h-1zM444 231h1v1h-1zM624 231h1v1h-1zM671 231h1v1h-1zM860 231h1v1h-1zM114 232h1v1h-1zM164 232h1v1h-1zM192 232h2v1h-2zM280 232h1v1h-1zM443 232h1v1h-1zM625 232h1v1h-1zM671 232h1v1h-1zM861 232h1v1h-1zM113 233h1v1h-1zM164 233h1v1h-1zM190 233h2v1h-2zM281 233h1v1h-1zM443 233h1v1h-1zM625 233h1v1h-1zM670 233h1v1h-1zM861 233h1v1h-1zM113 234h1v1h-1zM165 234h1v1h-1zM187 234h3v1h-3zM282 234h1v1h-1zM442 234h1v1h-1zM626 234h1v1h-1zM670 234h1v1h-1zM862 234h1v1h-1zM112 235h1v1h-1zM165 235h1v1h-1zM180 235h7v1h-7zM282 235h1v1h-1zM442 235h1v1h-1zM626 235h1v1h-1zM669 235h1v1h-1zM862 235h1v1h-1zM112 236h1v1h-1zM166 236h1v1h-1zM178 236h2v1h-2zM283 236h1v1h-1zM441 236h1v1h-1zM627 236h1v1h-1zM668 236h1v1h-1zM863 236h1v1h-1zM111 237h1v1h-1zM167 237h1v1h-1zM177 237h1v1h-1zM283 237h1v1h-1zM441 237h1v1h-1zM627 237h1v1h-1zM668 237h1v1h-1zM863 237h1v1h-1zM111 238h1v1h-1zM167 238h1v1h-1zM175 238h2v1h-2zM284 238h1v1h-1zM441 238h1v1h-1zM628 238h1v1h-1zM667 238h1v1h-1zM864 238h1v1h-1zM110 239h1v1h-1zM168 239h1v1h-1zM174 239h1v1h-1zM284 239h1v1h-1zM440 239h1v1h-1zM628 239h1v1h-1zM667 239h1v1h-1zM864 239h1v1h-1zM110 240h1v1h-1zM169 240h5v1h-5zM285 240h1v1h-1zM440 240h1v1h-1zM629 240h1v1h-1zM666 240h1v1h-1zM865 240h1v1h-1zM109 241h1v1h-1zM286 241h1v1h-1zM439 241h1v1h-1zM629 241h1v1h-1zM666 241h1v1h-1zM865 241h1v1h-1zM109 242h1v1h-1zM286 242h1v1h-1zM439 242h1v1h-1zM630 242h1v1h-1zM665 242h1v1h-1zM865 242h1v1h-1zM109 243h1v1h-1zM287 243h1v1h-1zM439 243h1v1h-1zM630 243h1v1h-1zM665 243h1v1h-1zM866 243h1v1h-1zM108 244h1v1h-1zM287 244h1v1h-1zM438 244h1v1h-1zM631 244h1v1h-1zM664 244h1v1h-1zM866 244h1v1h-1zM108 245h1v1h-1zM288 245h1v1h-1zM438 245h1v1h-1zM631 245h1v1h-1zM664 245h1v1h-1zM866 245h1v1h-1zM107 246h1v1h-1zM288 246h1v1h-1zM437 246h1v1h-1zM632 246h1v1h-1zM663 246h1v1h-1zM867 246h1v1h-1zM107 247h1v1h-1zM289 247h1v1h-1zM437 247h1v1h-1zM632 247h1v1h-1zM663 247h1v1h-1zM867 247h1v1h-1zM106 248h1v1h-1zM290 248h1v1h-1zM437 248h1v1h-1zM633 248h1v1h-1zM662 248h1v1h-1zM867 248h1v1h-1zM106 249h1v1h-1zM290 249h1v1h-1zM436 249h1v1h-1zM633 249h1v1h-1zM662 249h1v1h-1zM868 249h1v1h-1zM29 250h2v1h-2zM105 250h1v1h-1zM291 250h1v1h-1zM436 250h1v1h-1zM634 250h1v1h-1zM661 250h1v1h-1zM868 250h1v1h-1zM27 251h2v1h-2zM31 251h4v1h-4zM105 251h1v1h-1zM291 251h1v1h-1zM435 251h1v1h-1zM634 251h1v1h-1zM661 251h1v1h-1zM868 251h1v1h-1zM26 252h1v1h-1zM35 252h3v1h-3zM104 252h1v1h-1zM292 252h1v1h-1zM435 252h1v1h-1zM635 252h1v1h-1zM661 252h1v1h-1zM869 252h1v1h-1zM25 253h1v1h-1zM38 253h1v1h-1zM104 253h1v1h-1zM292 253h1v1h-1zM434 253h1v1h-1zM636 253h1v1h-1zM660 253h1v1h-1zM869 253h1v1h-1zM23 254h2v1h-2zM39 254h1v1h-1zM103 254h1v1h-1zM293 254h1v1h-1zM434 254h1v1h-1zM636 254h1v1h-1zM660 254h1v1h-1zM869 254h1v1h-1zM22 255h1v1h-1zM40 255h1v1h-1zM103 255h1v1h-1zM293 255h1v1h-1zM433 255h1v1h-1zM637 255h1v1h-1zM659 255h1v1h-1zM870 255h1v1h-1zM21 256h1v1h-1zM41 256h1v1h-1zM103 256h1v1h-1zM294 256h1v1h-1zM433 256h1v1h-1zM637 256h1v1h-1zM659 256h1v1h-1zM870 256h1v1h-1zM19 257h2v1h-2zM42 257h1v1h-1zM102 257h1v1h-1zM294 257h1v1h-1zM433 257h1v1h-1zM638 257h1v1h-1zM658 257h1v1h-1zM871 257h1v1h-1zM18 258h1v1h-1zM43 258h1v1h-1zM102 258h1v1h-1zM294 258h1v1h-1zM432 258h1v1h-1zM638 258h1v1h-1zM658 258h1v1h-1zM871 258h1v1h-1zM17 259h1v1h-1zM44 259h1v1h-1zM101 259h1v1h-1zM295 259h1v1h-1zM432 259h1v1h-1zM639 259h1v1h-1zM657 259h1v1h-1zM871 259h1v1h-1zM15 260h2v1h-2zM45 260h1v1h-1zM101 260h1v1h-1zM295 260h1v1h-1zM431 260h1v1h-1zM639 260h1v1h-1zM656 260h1v1h-1zM872 260h1v1h-1zM14 261h1v1h-1zM46 261h1v1h-1zM101 261h1v1h-1zM295 261h1v1h-1zM431 261h1v1h-1zM640 261h1v1h-1zM656 261h1v1h-1zM872 261h1v1h-1zM13 262h1v1h-1zM47 262h2v1h-2zM100 262h1v1h-1zM296 262h1v1h-1zM430 262h1v1h-1zM640 262h1v1h-1zM655 262h1v1h-1zM873 262h1v1h-1zM925 262h1v1h-1zM11 263h2v1h-2zM49 263h1v1h-1zM100 263h1v1h-1zM296 263h1v1h-1zM430 263h1v1h-1zM641 263h1v1h-1zM655 263h1v1h-1zM873 263h1v1h-1zM924 263h1v1h-1zM10 264h1v1h-1zM49 264h1v1h-1zM100 264h1v1h-1zM296 264h1v1h-1zM429 264h1v1h-1zM641 264h2v1h-2zM654 264h1v1h-1zM874 264h1v1h-1zM923 264h1v1h-1zM9 265h1v1h-1zM50 265h1v1h-1zM100 265h1v1h-1zM297 265h1v1h-1zM429 265h1v1h-1zM643 265h4v1h-4zM654 265h1v1h-1zM874 265h1v1h-1zM922 265h1v1h-1zM7 266h2v1h-2zM50 266h1v1h-1zM99 266h1v1h-1zM297 266h1v1h-1zM429 266h1v1h-1zM647 266h7v1h-7zM875 266h1v1h-1zM921 266h1v1h-1zM6 267h1v1h-1zM51 267h1v1h-1zM99 267h1v1h-1zM297 267h1v1h-1zM428 267h1v1h-1zM875 267h1v1h-1zM920 267h1v1h-1zM5 268h1v1h-1zM51 268h1v1h-1zM99 268h1v1h-1zM298 268h1v1h-1zM428 268h1v1h-1zM876 268h1v1h-1zM919 268h1v1h-1zM51 269h1v1h-1zM99 269h1v1h-1zM298 269h1v1h-1zM427 269h1v1h-1zM876 269h1v1h-1zM918 269h1v1h-1zM52 270h1v1h-1zM98 270h1v1h-1zM298 270h1v1h-1zM427 270h1v1h-1zM877 270h1v1h-1zM917 270h1v1h-1zM52 271h1v1h-1zM98 271h1v1h-1zM299 271h1v1h-1zM426 271h1v1h-1zM877 271h1v1h-1zM916 271h1v1h-1zM53 272h1v1h-1zM98 272h1v1h-1zM299 272h1v1h-1zM426 272h1v1h-1zM878 272h1v1h-1zM915 272h1v1h-1zM53 273h1v1h-1zM98 273h1v1h-1zM299 273h1v1h-1zM425 273h1v1h-1zM878 273h1v1h-1zM914 273h1v1h-1zM54 274h1v1h-1zM97 274h1v1h-1zM299 274h1v1h-1zM425 274h1v1h-1zM879 274h1v1h-1zM913 274h1v1h-1zM55 275h2v1h-2zM97 275h1v1h-1zM300 275h1v1h-1zM425 275h1v1h-1zM880 275h1v1h-1zM912 275h1v1h-1zM57 276h1v1h-1zM96 276h1v1h-1zM300 276h1v1h-1zM424 276h1v1h-1zM880 276h1v1h-1zM911 276h1v1h-1zM58 277h1v1h-1zM96 277h1v1h-1zM300 277h1v1h-1zM424 277h1v1h-1zM881 277h1v1h-1zM911 277h1v1h-1zM59 278h2v1h-2zM95 278h1v1h-1zM301 278h1v1h-1zM423 278h1v1h-1zM882 278h1v1h-1zM910 278h1v1h-1zM61 279h10v1h-10zM94 279h1v1h-1zM301 279h1v1h-1zM423 279h1v1h-1zM883 279h1v1h-1zM909 279h1v1h-1zM71 280h3v1h-3zM94 280h1v1h-1zM301 280h1v1h-1zM422 280h1v1h-1zM884 280h1v1h-1zM908 280h1v1h-1zM74 281h1v1h-1zM93 281h1v1h-1zM302 281h1v1h-1zM422 281h1v1h-1zM885 281h1v1h-1zM907 281h1v1h-1zM75 282h2v1h-2zM91 282h2v1h-2zM302 282h1v1h-1zM421 282h1v1h-1zM886 282h1v1h-1zM907 282h1v1h-1zM77 283h2v1h-2zM90 283h1v1h-1zM302 283h1v1h-1zM421 283h1v1h-1zM887 283h1v1h-1zM906 283h1v1h-1zM79 284h4v1h-4zM87 284h3v1h-3zM303 284h1v1h-1zM420 284h1v1h-1zM887 284h1v1h-1zM903 284h3v1h-3zM83 285h4v1h-4zM303 285h1v1h-1zM420 285h1v1h-1zM888 285h1v1h-1zM900 285h3v1h-3zM303 286h1v1h-1zM419 286h1v1h-1zM889 286h2v1h-2zM898 286h2v1h-2zM304 287h1v1h-1zM419 287h1v1h-1zM891 287h7v1h-7zM304 288h1v1h-1zM418 288h1v1h-1zM304 289h1v1h-1zM418 289h1v1h-1zM305 290h1v1h-1zM417 290h1v1h-1zM305 291h1v1h-1zM417 291h1v1h-1zM305 292h1v1h-1zM417 292h1v1h-1zM306 293h1v1h-1zM416 293h1v1h-1zM306 294h1v1h-1zM416 294h1v1h-1zM307 295h1v1h-1zM415 295h1v1h-1zM307 296h1v1h-1zM415 296h1v1h-1zM307 297h1v1h-1zM415 297h1v1h-1zM308 298h1v1h-1zM414 298h1v1h-1zM308 299h1v1h-1zM414 299h1v1h-1zM309 300h1v1h-1zM413 300h1v1h-1zM309 301h1v1h-1zM413 301h1v1h-1zM309 302h1v1h-1zM413 302h1v1h-1zM310 303h1v1h-1zM412 303h1v1h-1zM310 304h1v1h-1zM412 304h1v1h-1zM311 305h1v1h-1zM411 305h1v1h-1zM311 306h1v1h-1zM411 306h1v1h-1zM311 307h1v1h-1zM410 307h1v1h-1zM312 308h1v1h-1zM410 308h1v1h-1zM312 309h1v1h-1zM409 309h1v1h-1zM313 310h1v1h-1zM408 310h1v1h-1zM313 311h1v1h-1zM408 311h1v1h-1zM313 312h1v1h-1zM407 312h1v1h-1zM314 313h1v1h-1zM407 313h1v1h-1zM314 314h1v1h-1zM406 314h1v1h-1zM314 315h1v1h-1zM406 315h1v1h-1zM315 316h1v1h-1zM405 316h1v1h-1zM315 317h1v1h-1zM404 317h1v1h-1zM316 318h1v1h-1zM403 318h1v1h-1zM316 319h1v1h-1zM403 319h1v1h-1zM316 320h1v1h-1zM402 320h1v1h-1zM317 321h1v1h-1zM401 321h1v1h-1zM317 322h1v1h-1zM400 322h1v1h-1zM317 323h1v1h-1zM400 323h1v1h-1zM318 324h1v1h-1zM399 324h1v1h-1zM318 325h1v1h-1zM399 325h1v1h-1zM319 326h1v1h-1zM398 326h1v1h-1zM319 327h1v1h-1zM398 327h1v1h-1zM319 328h1v1h-1zM397 328h1v1h-1zM320 329h1v1h-1zM396 329h1v1h-1zM320 330h1v1h-1zM396 330h1v1h-1zM321 331h1v1h-1zM395 331h1v1h-1zM321 332h1v1h-1zM395 332h1v1h-1zM322 333h1v1h-1zM394 333h1v1h-1zM322 334h1v1h-1zM394 334h1v1h-1zM323 335h1v1h-1zM393 335h1v1h-1zM323 336h1v1h-1zM393 336h1v1h-1zM324 337h1v1h-1zM392 337h1v1h-1zM324 338h1v1h-1zM392 338h1v1h-1zM325 339h1v1h-1zM391 339h1v1h-1zM325 340h1v1h-1zM391 340h1v1h-1zM326 341h1v1h-1zM390 341h1v1h-1zM326 342h1v1h-1zM390 342h1v1h-1zM327 343h1v1h-1zM389 343h1v1h-1zM327 344h1v1h-1zM387 344h2v1h-2zM328 345h1v1h-1zM386 345h1v1h-1zM328 346h1v1h-1zM385 346h1v1h-1zM329 347h1v1h-1zM383 347h2v1h-2zM330 348h2v1h-2zM382 348h1v1h-1zM332 349h2v1h-2zM381 349h1v1h-1zM334 350h1v1h-1zM379 350h2v1h-2zM335 351h2v1h-2zM378 351h1v1h-1zM337 352h1v1h-1zM377 352h1v1h-1zM338 353h1v1h-1zM375 353h2v1h-2zM338 354h1v1h-1zM374 354h1v1h-1zM339 355h1v1h-1zM373 355h1v1h-1zM340 356h1v1h-1zM372 356h1v1h-1zM340 357h1v1h-1zM372 357h1v1h-1zM341 358h1v1h-1zM371 358h1v1h-1zM342 359h1v1h-1zM370 359h1v1h-1zM343 360h1v1h-1zM370 360h1v1h-1zM343 361h1v1h-1zM369 361h1v1h-1zM344 362h1v1h-1zM367 362h2v1h-2zM345 363h1v1h-1zM366 363h1v1h-1zM346 364h2v1h-2zM363 364h3v1h-3zM348 365h15v1h-15z" fill="#ff0000"/>
<g>
<rect x="5" y="171" width="1" height="111" fill="#32cd32"/>
<rect x="4" y="202" width="3" height="55" fill="#32cd32"/>
<rect x="9" y="244" width="1" height="36" fill="#32cd32"/>
<rect x="8" y="256" width="3" height="5" fill="#32cd32"/>
<rect x="13" y="237" width="1" height="29" fill="#ff0000"/>
<rect x="12" y="254" width="3" height="6" fill="#ff0000"/>
<rect x="13" y="255" width="1" height="4" fill="#ff4500"/>
<rect x="17" y="256" width="1" height="4" fill="#32cd32"/>
<rect x="16" y="256" width="3" height="3" fill="#32cd32"/>
<rect x="21" y="246" width="1" height="35" fill="#32cd32"/>
<rect x="20" y="257" width="3" height="15" fill="#32cd32"/>
<rect x="25" y="238" width="1" height="37" fill="#ff0000"/>
<rect x="24" y="246" width="3" height="25" fill="#ff0000"/>
<rect x="25" y="247" width="1" height="23" fill="#ff4500"/>
<rect x="29" y="239" width="1" height="47" fill="#32cd32"/>
<rect x="28" y="246" width="3" height="38" fill="#32cd32"/>
<rect x="33" y="278" width="1" height="54" fill="#32cd32"/>
<rect x="32" y="283" width="3" height="40" fill="#32cd32"/>
<rect x="37" y="299" width="1" height="38" fill="#ff0000"/>
<rect x="36" y="306" width="3" height="17" fill="#ff0000"/>
<rect x="37" y="307" width="1" height="15" fill="#ff4500"/>
<rect x="41" y="308" width="1" height="6" fill="#32cd32"/>
<rect x="40" y="309" width="3" height="4" fill="#32cd32"/>
<rect x="45" y="287" width="1" height="34" fill="#ff0000"/>
<rect x="44" y="294" width="3" height="18" fill="#ff0000"/>
<rect x="45" y="295" width="1" height="16" fill="#ff4500"/>
<rect x="49" y="254" width="1" height="47" fill="#ff0000"/>
<rect x="48" y="277" width="3" height="17" fill="#ff0000"/>
<rect x="49" y="278" width="1" height="15" fill="#ff4500"/>
<rect x="53" y="261" width="1" height="25" fill="#ff0000"/>
<rect x="52" y="270" width="3" height="7" fill="#ff0000"/>
<rect x="53" y="271" width="1" height="5" fill="#ff4500"/>
<rect x="57" y="270" width="1" height="39" fill="#32cd32"/>
<rect x="56" y="270" width="3" height="24" fill="#32cd32"/>
<rect x="61" y="251" width="1" height="47" fill="#ff0000"/>
<rect x="60" y="263" width="3" height="31" fill="#ff0000"/>
<rect x="61" y="264" width="1" height="29" fill="#ff4500"/>
<rect x="65" y="252" width="1" height="5" fill="#ff0000"/>
<rect x="64" y="256" width="3" height="1" fill="#ff0000"/>
<rect x="69" y="248" width="1" height="31" fill="#ff0000"/>
<rect x="68" y="254" width="3" height="3" fill="#ff0000"/>
<rect x="69" y="255" width="1" height="1" fill="#ff4500"/>
<rect x="73" y="247" width="1" height="39" fill="#32cd32"/>
<rect x="72" y="254" width="3" height="31" fill="#32cd32"/>
<rect x="77" y="269" width="1" height="31" fill="#32cd32"/>
<rect x="76" y="284" width="3" height="7" fill="#32cd32"/>
<rect x="81" y="277" width="1" height="17" fill="#ff0000"/>
<rect x="80" y="284" width="3" height="7" fill="#ff0000"/>
<rect x="81" y="285" width="1" height="5" fill="#ff4500"/>
<rect x="85" y="278" width="1" height="16" fill="#32cd32"/>
<rect x="84" y="284" width="3" height="2" fill="#32cd32"/>
<rect x="89" y="284" width="1" height="5" fill="#ff0000"/>
<rect x="88" y="285" width="3" height="3" fill="#ff0000"/>
<rect x="89" y="286" width="1" height="1" fill="#ff4500"/>
<rect x="93" y="249" width="1" height="37" fill="#ff0000"/>
<rect x="92" y="256" width="3" height="30" fill="#ff0000"/>
<rect x="93" y="257" width="1" height="28" fill="#ff4500"/>
<rect x="97" y="215" width="1" height="43" fill="#ff0000"/>
<rect x="96" y="226" width="3" height="31" fill="#ff0000"/>
<rect x="97" y="227" width="1" height="29" fill="#ff4500"/>
<rect x="101" y="207" width="1" height="35" fill="#ff0000"/>
<rect x="100" y="207" width="3" height="19" fill="#ff0000"/>
<rect x="101" y="208" width="1" height="17" fill="#ff4500"/>
<rect x="105" y="116" width="1" height="94" fill="#ff0000"/>
<rect x="104" y="117" width="3" height="91" fill="#ff0000"/>
<rect x="105" y="118" width="1" height="89" fill="#ff4500"/>
<rect x="109" y="54" width="1" height="73" fill="#ff0000"/>
<rect x="108" y="109" width="3" height="9" fill="#ff0000"/>
<rect x="109" y="110" width="1" height="7" fill="#ff4500"/>
<rect x="113" y="118" width="1" height="5" fill="#32cd32"/>
<rect x="112" y="118" width="3" height="3" fill="#32cd32"/>
<rect x="117" y="120" width="1" height="98" fill="#32cd32"/>
<rect x="116" y="120" width="3" height="93" fill="#32cd32"/>
<rect x="121" y="210" width="1" height="43" fill="#32cd32"/>
<rect x="120" y="212" width="3" height="31" fill="#32cd32"/>
<rect x="125" y="217" width="1" height="31" fill="#32cd32"/>
<rect x="124" y="242" width="3" height="6" fill="#32cd32"/>
<rect x="129" y="190" width="1" height="58" fill="#ff0000"/>
<rect x="128" y="195" width="3" height="53" fill="#ff0000"/>
<rect x="129" y="196" width="1" height="51" fill="#ff4500"/>
<rect x="133" y="183" width="1" height="55" fill="#32cd32"/>
<rect x="132" y="194" width="3" height="38" fill="#32cd32"/>
<rect x="137" y="232" width="1" height="5" fill="#32cd32"/>
<rect x="136" y="233" width="3" height="3" fill="#32cd32"/>
<rect x="141" y="223" width="1" height="33" fill="#32cd32"/>
<rect x="140" y="234" width="3" height="3" fill="#32cd32"/>
<rect x="145" y="212" width="1" height="46" fill="#ff0000"/>
<rect x="144" y="232" width="3" height="5" fill="#ff0000"/>
<rect x="145" y="233" width="1" height="3" fill="#ff4500"/>
<rect x="149" y="221" width="1" height="32" fill="#ff0000"/>
<rect x="148" y="229" width="3" height="4" fill="#ff0000"/>
<rect x="149" y="230" width="1" height="2" fill="#ff4500"/>
<rect x="153" y="221" width="1" height="49" fill="#32cd32"/>
<rect x="152" y="230" width="3" height="37" fill="#32cd32"/>
<rect x="157" y="264" width="1" height="34" fill="#32cd32"/>
<rect x="156" y="266" width="3" height="21" fill="#32cd32"/>
<rect x="161" y="278" width="1" height="4" fill="#ff0000"/>
<rect x="160" y="279" width="3" height="2" fill="#ff0000"/>
<rect x="165" y="263" width="1" height="20" fill="#ff0000"/>
<rect x="164" y="276" width="3" height="3" fill="#ff0000"/>
<rect x="165" y="277" width="1" height="1" fill="#ff4500"/>
<rect x="169" y="211" width="1" height="74" fill="#ff0000"/>
<rect x="168" y="216" width="3" height="61" fill="#ff0000"/>
<rect x="169" y="217" width="1" height="59" fill="#ff4500"/>
<rect x="173" y="154" width="1" height="74" fill="#ff0000"/>
<rect x="172" y="190" width="3" height="26" fill="#ff0000"/>
<rect x="173" y="191" width="1" height="24" fill="#ff4500"/>
<rect x="177" y="173" width="1" height="57" fill="#32cd32"/>
<rect x="176" y="191" width="3" height="16" fill="#32cd32"/>
<rect x="181" y="202" width="1" height="49" fill="#32cd32"/>
<rect x="180" y="206" width="3" height="4" fill="#32cd32"/>
<rect x="185" y="195" width="1" height="5" fill="#32cd32"/>
<rect x="184" y="196" width="3" height="3" fill="#32cd32"/>
<rect x="189" y="190" width="1" height="29" fill="#32cd32"/>
<rect x="188" y="198" width="3" height="18" fill="#32cd32"/>
<rect x="193" y="188" width="1" height="53" fill="#ff0000"/>
<rect x="192" y="192" width="3" height="24" fill="#ff0000"/>
<rect x="193" y="193" width="1" height="22" fill="#ff4500"/>
<rect x="197" y="183" width="1" height="49" fill="#32cd32"/>
<rect x="196" y="192" width="3" height="40" fill="#32cd32"/>
<rect x="201" y="188" width="1" height="45" fill="#ff0000"/>
<rect x="200" y="197" width="3" height="35" fill="#ff0000"/>
<rect x="201" y="198" width="1" height="33" fill="#ff4500"/>
<rect x="205" y="154" width="1" height="68" fill="#ff0000"/>
<rect x="204" y="162" width="3" height="35" fill="#ff0000"/>
<rect x="205" y="163" width="1" height="33" fill="#ff4500"/>
<rect x="209" y="149" width="1" height="6" fill="#ff0000"/>
<rect x="208" y="152" width="3" height="1" fill="#ff0000"/>
<rect x="213" y="82" width="1" height="74" fill="#ff0000"/>
<rect x="212" y="132" width="3" height="21" fill="#ff0000"/>
<rect x="213" y="133" width="1" height="19" fill="#ff4500"/>
<rect x="217" y="108" width="1" height="57" fill="#ff0000"/>
<rect x="216" y="125" width="3" height="8" fill="#ff0000"/>
<rect x="217" y="126" width="1" height="6" fill="#ff4500"/>
<rect x="221" y="120" width="1" height="68" fill="#32cd32"/>
<rect x="220" y="124" width="3" height="18" fill="#32cd32"/>
<rect x="225" y="136" width="1" height="87" fill="#32cd32"/>
<rect x="224" y="141" width="3" height="66" fill="#32cd32"/>
<rect x="229" y="171" width="1" height="49" fill="#32cd32"/>
<rect x="228" y="206" width="3" height="3" fill="#32cd32"/>
<rect x="233" y="210" width="1" height="6" fill="#32cd32"/>
<rect x="232" y="211" width="3" height="4" fill="#32cd32"/>
<rect x="237" y="203" width="1" height="33" fill="#32cd32"/>
<rect x="236" y="214" width="3" height="14" fill="#32cd32"/>
<rect x="241" y="183" width="1" height="62" fill="#ff0000"/>
<rect x="240" y="200" width="3" height="27" fill="#ff0000"/>
<rect x="241" y="201" width="1" height="25" fill="#ff4500"/>
<rect x="245" y="148" width="1" height="56" fill="#ff0000"/>
<rect x="244" y="159" width="3" height="41" fill="#ff0000"/>
<rect x="245" y="160" width="1" height="39" fill="#ff4500"/>
<rect x="249" y="157" width="1" height="69" fill="#32cd32"/>
<rect x="248" y="158" width="3" height="39" fill="#32cd32"/>
<rect x="253" y="166" width="1" height="61" fill="#32cd32"/>
<rect x="252" y="195" width="3" height="27" fill="#32cd32"/>
<rect x="257" y="224" width="1" height="7" fill="#ff0000"/>
<rect x="256" y="227" width="3" height="4" fill="#ff0000"/>
<rect x="257" y="228" width="1" height="2" fill="#ff4500"/>
<rect x="261" y="212" width="1" height="53" fill="#32cd32"/>
<rect x="260" y="226" width="3" height="20" fill="#32cd32"/>
<rect x="265" y="225" width="1" height="46" fill="#32cd32"/>
<rect x="264" y="246" width="3" height="5" fill="#32cd32"/>
<rect x="269" y="215" width="1" height="37" fill="#ff0000"/>
<rect x="268" y="248" width="3" height="2" fill="#ff0000"/>
<rect x="273" y="241" width="1" height="33" fill="#32cd32"/>
<rect x="272" y="248" width="3" height="22" fill="#32cd32"/>
<rect x="277" y="261" width="1" height="61" fill="#32cd32"/>
<rect x="276" y="269" width="3" height="47" fill="#32cd32"/>
<rect x="281" y="302" width="1" height="8" fill="#ff0000"/>
<rect x="280" y="303" width="3" height="5" fill="#ff0000"/>
<rect x="281" y="304" width="1" height="3" fill="#ff4500"/>
<rect x="285" y="299" width="1" height="25" fill="#32cd32"/>
<rect x="284" y="303" width="3" height="2" fill="#32cd32"/>
<rect x="289" y="295" width="1" height="36" fill="#32cd32"/>
<rect x="288" y="305" width="3" height="3" fill="#32cd32"/>
<rect x="293" y="306" width="1" height="27" fill="#32cd32"/>
<rect x="292" y="307" width="3" height="21" fill="#32cd32"/>
<rect x="297" y="327" width="1" height="47" fill="#32cd32"/>
<rect x="296" y="327" width="3" height="35" fill="#32cd32"/>
<rect x="301" y="350" width="1" height="33" fill="#ff0000"/>
<rect x="300" y="357" width="3" height="5" fill="#ff0000"/>
<rect x="301" y="358" width="1" height="3" fill="#ff4500"/>
<rect x="305" y="362" width="1" height="6" fill="#ff0000"/>
<rect x="304" y="362" width="3" height="5" fill="#ff0000"/>
<rect x="305" y="363" width="1" height="3" fill="#ff4500"/>
<rect x="309" y="343" width="1" height="33" fill="#32cd32"/>
<rect x="308" y="362" width="3" height="2" fill="#32cd32"/>
<rect x="313" y="362" width="1" height="35" fill="#32cd32"/>
<rect x="312" y="363" width="3" height="9" fill="#32cd32"/>
<rect x="317" y="366" width="1" height="32" fill="#32cd32"/>
<rect x="316" y="373" width="3" height="16" fill="#32cd32"/>
<rect x="321" y="357" width="1" height="52" fill="#ff0000"/>
<rect x="320" y="364" width="3" height="25" fill="#ff0000"/>
<rect x="321" y="365" width="1" height="23" fill="#ff4500"/>
<rect x="325" y="354" width="1" height="38" fill="#32cd32"/>
<rect x="324" y="364" width="3" height="2" fill="#32cd32"/>
<rect x="329" y="359" width="1" height="8" fill="#ff0000"/>
<rect x="328" y="363" width="3" height="3" fill="#ff0000"/>
<rect x="329" y="364" width="1" height="1" fill="#ff4500"/>
<rect x="333" y="348" width="1" height="34" fill="#ff0000"/>
<rect x="332" y="359" width="3" height="5" fill="#ff0000"/>
<rect x="333" y="360" width="1" height="3" fill="#ff4500"/>
<rect x="337" y="350" width="1" height="26" fill="#ff0000"/>
<rect x="336" y="353" width="3" height="7" fill="#ff0000"/>
<rect x="337" y="354" width="1" height="5" fill="#ff4500"/>
<rect x="341" y="331" width="1" height="71" fill="#32cd32"/>
<rect x="340" y="353" width="3" height="11" fill="#32cd32"/>
<rect x="345" y="358" width="1" height="29" fill="#32cd32"/>
<rect x="344" y="364" width="3" height="14" fill="#32cd32"/>
<rect x="349" y="344" width="1" height="44" fill="#ff0000"/>
<rect x="348" y="362" width="3" height="16" fill="#ff0000"/>
<rect x="349" y="363" width="1" height="14" fill="#ff4500"/>
<rect x="353" y="356" width="1" height="4" fill="#ff0000"/>
<rect x="352" y="358" width="3" height="1" fill="#ff0000"/>
<rect x="357" y="347" width="1" height="28" fill="#32cd32"/>
<rect x="356" y="358" width="3" height="5" fill="#32cd32"/>
<rect x="361" y="335" width="1" height="29" fill="#ff0000"/>
<rect x="360" y="344" width="3" height="18" fill="#ff0000"/>
<rect x="361" y="345" width="1" height="16" fill="#ff4500"/>
<rect x="365" y="318" width="1" height="42" fill="#32cd32"/>
<rect x="364" y="344" width="3" height="16" fill="#32cd32"/>
<rect x="369" y="310" width="1" height="50" fill="#ff0000"/>
<rect x="368" y="320" width="3" height="40" fill="#ff0000"/>
<rect x="369" y="321" width="1" height="38" fill="#ff4500"/>
<rect x="373" y="306" width="1" height="24" fill="#ff0000"/>
<rect x="372" y="317" width="3" height="4" fill="#ff0000"/>
<rect x="373" y="318" width="1" height="2" fill="#ff4500"/>
<rect x="377" y="319" width="1" height="6" fill="#32cd32"/>
<rect x="376" y="320" width="3" height="3" fill="#32cd32"/>
<rect x="381" y="313" width="1" height="17" fill="#32cd32"/>
<rect x="380" y="321" width="3" height="5" fill="#32cd32"/>
<rect x="385" y="302" width="1" height="32" fill="#32cd32"/>
<rect x="384" y="325" width="3" height="5" fill="#32cd32"/>
<rect x="389" y="293" width="1" height="63" fill="#ff0000"/>
<rect x="388" y="301" width="3" height="29" fill="#ff0000"/>
<rect x="389" y="302" width="1" height="27" fill="#ff4500"/>
<rect x="393" y="243" width="1" height="61" fill="#ff0000"/>
<rect x="392" y="247" width="3" height="55" fill="#ff0000"/>
<rect x="393" y="248" width="1" height="53" fill="#ff4500"/>
<rect x="397" y="238" width="1" height="33" fill="#32cd32"/>
<rect x="396" y="247" width="3" height="20" fill="#32cd32"/>
<rect x="401" y="268" width="1" height="4" fill="#ff0000"/>
<rect x="400" y="270" width="3" height="2" fill="#ff0000"/>
<rect x="405" y="265" width="1" height="30" fill="#32cd32"/>
<rect x="404" y="270" width="3" height="18" fill="#32cd32"/>
<rect x="409" y="258" width="1" height="42" fill="#ff0000"/>
<rect x="408" y="259" width="3" height="29" fill="#ff0000"/>
<rect x="409" y="260" width="1" height="27" fill="#ff4500"/>
<rect x="413" y="229" width="1" height="45" fill="#ff0000"/>
<rect x="412" y="235" width="3" height="25" fill="#ff0000"/>
<rect x="413" y="236" width="1" height="23" fill="#ff4500"/>
<rect x="417" y="216" width="1" height="30" fill="#32cd32"/>
<rect x="416" y="235" width="3" height="5" fill="#32cd32"/>
<rect x="421" y="208" width="1" height="42" fill="#ff0000"/>
<rect x="420" y="208" width="3" height="31" fill="#ff0000"/>
<rect x="421" y="209" width="1" height="29" fill="#ff4500"/>
<rect x="425" y="212" width="1" height="8" fill="#ff0000"/>
<rect x="424" y="212" width="3" height="8" fill="#ff0000"/>
<rect x="425" y="213" width="1" height="6" fill="#ff4500"/>
<rect x="429" y="185" width="1" height="42" fill="#ff0000"/>
<rect x="428" y="186" width="3" height="27" fill="#ff0000"/>
<rect x="429" y="187" width="1" height="25" fill="#ff4500"/>
<rect x="433" y="163" width="1" height="47" fill="#32cd32"/>
<rect x="432" y="186" width="3" height="15" fill="#32cd32"/>
<rect x="437" y="182" width="1" height="32" fill="#32cd32"/>
<rect x="436" y="200" width="3" height="9" fill="#32cd32"/>
<rect x="441" y="200" width="1" height="20" fill="#ff0000"/>
<rect x="440" y="207" width="3" height="2" fill="#ff0000"/>
<rect x="445" y="134" width="1" height="75" fill="#ff0000"/>
<rect x="444" y="142" width="3" height="66" fill="#ff0000"/>
<rect x="445" y="143" width="1" height="64" fill="#ff4500"/>
<rect x="449" y="156" width="1" height="19" fill="#32cd32"/>
<rect x="448" y="156" width="3" height="19" fill="#32cd32"/>
<rect x="453" y="137" width="1" height="40" fill="#ff0000"/>
<rect x="452" y="167" width="3" height="8" fill="#ff0000"/>
<rect x="453" y="168" width="1" height="6" fill="#ff4500"/>
<rect x="457" y="114" width="1" height="57" fill="#ff0000"/>
<rect x="456" y="147" width="3" height="21" fill="#ff0000"/>
<rect x="457" y="148" width="1" height="19" fill="#ff4500"/>
<rect x="461" y="118" width="1" height="63" fill="#ff0000"/>
<rect x="460" y="128" width="3" height="21" fill="#ff0000"/>
<rect x="461" y="129" width="1" height="19" fill="#ff4500"/>
<rect x="465" y="114" width="1" height="32" fill="#ff0000"/>
<rect x="464" y="124" width="3" height="5" fill="#ff0000"/>
<rect x="465" y="125" width="1" height="3" fill="#ff4500"/>
<rect x="469" y="109" width="1" height="56" fill="#ff0000"/>
<rect x="468" y="113" width="3" height="11" fill="#ff0000"/>
<rect x="469" y="114" width="1" height="9" fill="#ff4500"/>
<rect x="473" y="114" width="1" height="11" fill="#32cd32"/>
<rect x="472" y="119" width="3" height="6" fill="#32cd32"/>
<rect x="477" y="111" width="1" height="49" fill="#32cd32"/>
<rect x="476" y="124" width="3" height="31" fill="#32cd32"/>
<rect x="481" y="151" width="1" height="73" fill="#32cd32"/>
<rect x="480" y="154" width="3" height="62" fill="#32cd32"/>
<rect x="485" y="205" width="1" height="33" fill="#ff0000"/>
<rect x="484" y="213" width="3" height="5" fill="#ff0000"/>
<rect x="485" y="214" width="1" height="3" fill="#ff4500"/>
<rect x="489" y="176" width="1" height="39" fill="#ff0000"/>
<rect x="488" y="184" width="3" height="30" fill="#ff0000"/>
<rect x="489" y="185" width="1" height="28" fill="#ff4500"/>
<rect x="493" y="167" width="1" height="32" fill="#ff0000"/>
<rect x="492" y="172" width="3" height="12" fill="#ff0000"/>
<rect x="493" y="173" width="1" height="10" fill="#ff4500"/>
<rect x="497" y="171" width="1" height="7" fill="#32cd32"/>
<rect x="496" y="171" width="3" height="5" fill="#32cd32"/>
<rect x="501" y="122" width="1" height="63" fill="#ff0000"/>
<rect x="500" y="129" width="3" height="47" fill="#ff0000"/>
<rect x="501" y="130" width="1" height="45" fill="#ff4500"/>
<rect x="505" y="97" width="1" height="39" fill="#ff0000"/>
<rect x="504" y="98" width="3" height="32" fill="#ff0000"/>
<rect x="505" y="99" width="1" height="30" fill="#ff4500"/>
<rect x="509" y="60" width="1" height="59" fill="#32cd32"/>
<rect x="508" y="98" width="3" height="17" fill="#32cd32"/>
<rect x="513" y="103" width="1" height="51" fill="#32cd32"/>
<rect x="512" y="114" width="3" height="31" fill="#32cd32"/>
<rect x="517" y="90" width="1" height="56" fill="#ff0000"/>
<rect x="516" y="91" width="3" height="54" fill="#ff0000"/>
<rect x="517" y="92" width="1" height="52" fill="#ff4500"/>
<rect x="521" y="79" width="1" height="10" fill="#ff0000"/>
<rect x="520" y="81" width="3" height="7" fill="#ff0000"/>
<rect x="521" y="82" width="1" height="5" fill="#ff4500"/>
<rect x="525" y="46" width="1" height="42" fill="#ff0000"/>
<rect x="524" y="61" width="3" height="21" fill="#ff0000"/>
<rect x="525" y="62" width="1" height="19" fill="#ff4500"/>
<rect x="529" y="56" width="1" height="19" fill="#32cd32"/>
<rect x="528" y="61" width="3" height="8" fill="#32cd32"/>
<rect x="533" y="67" width="1" height="51" fill="#32cd32"/>
<rect x="532" y="68" width="3" height="38" fill="#32cd32"/>
<rect x="537" y="105" width="1" height="31" fill="#32cd32"/>
<rect x="536" y="106" width="3" height="14" fill="#32cd32"/>
<rect x="541" y="115" width="1" height="27" fill="#32cd32"/>
<rect x="540" y="119" width="3" height="9" fill="#32cd32"/>
<rect x="545" y="124" width="1" height="4" fill="#ff0000"/>
<rect x="544" y="125" width="3" height="3" fill="#ff0000"/>
<rect x="545" y="126" width="1" height="1" fill="#ff4500"/>
<rect x="549" y="108" width="1" height="38" fill="#32cd32"/>
<rect x="548" y="125" width="3" height="16" fill="#32cd32"/>
<rect x="553" y="117" width="1" height="27" fill="#ff0000"/>
<rect x="552" y="126" width="3" height="14" fill="#ff0000"/>
<rect x="553" y="127" width="1" height="12" fill="#ff4500"/>
<rect x="557" y="115" width="1" height="29" fill="#32cd32"/>
<rect x="556" y="125" width="3" height="19" fill="#32cd32"/>
<rect x="561" y="127" width="1" height="43" fill="#32cd32"/>
<rect x="560" y="143" width="3" height="21" fill="#32cd32"/>
<rect x="565" y="160" width="1" height="71" fill="#32cd32"/>
<rect x="564" y="163" width="3" height="57" fill="#32cd32"/>
<rect x="569" y="208" width="1" height="18" fill="#ff0000"/>
<rect x="568" y="209" width="3" height="16" fill="#ff0000"/>
<rect x="569" y="210" width="1" height="14" fill="#ff4500"/>
<rect x="573" y="145" width="1" height="73" fill="#ff0000"/>
<rect x="572" y="158" width="3" height="52" fill="#ff0000"/>
<rect x="573" y="159" width="1" height="50" fill="#ff4500"/>
<rect x="577" y="152" width="1" height="54" fill="#32cd32"/>
<rect x="576" y="160" width="3" height="26" fill="#32cd32"/>
<rect x="581" y="152" width="1" height="40" fill="#ff0000"/>
<rect x="580" y="155" width="3" height="29" fill="#ff0000"/>
<rect x="581" y="156" width="1" height="27" fill="#ff4500"/>
<rect x="585" y="126" width="1" height="59" fill="#32cd32"/>
<rect x="584" y="155" width="3" height="17" fill="#32cd32"/>
<rect x="589" y="171" width="1" height="53" fill="#32cd32"/>
<rect x="588" y="171" width="3" height="53" fill="#32cd32"/>
<rect x="593" y="211" width="1" height="13" fill="#ff0000"/>
<rect x="592" y="216" width="3" height="4" fill="#ff0000"/>
<rect x="593" y="217" width="1" height="2" fill="#ff4500"/>
<rect x="597" y="189" width="1" height="48" fill="#ff0000"/>
<rect x="596" y="206" width="3" height="10" fill="#ff0000"/>
<rect x="597" y="207" width="1" height="8" fill="#ff4500"/>
<rect x="601" y="203" width="1" height="57" fill="#32cd32"/>
<rect x="600" y="205" width="3" height="49" fill="#32cd32"/>
<rect x="605" y="252" width="1" height="46" fill="#32cd32"/>
<rect x="604" y="253" width="3" height="41" fill="#32cd32"/>
<rect x="609" y="283" width="1" height="38" fill="#ff0000"/>
<rect x="608" y="290" width="3" height="4" fill="#ff0000"/>
<rect x="609" y="291" width="1" height="2" fill="#ff4500"/>
<rect x="613" y="257" width="1" height="54" fill="#ff0000"/>
<rect x="612" y="262" width="3" height="29" fill="#ff0000"/>
<rect x="613" y="263" width="1" height="27" fill="#ff4500"/>
<rect x="617" y="264" width="1" height="10" fill="#32cd32"/>
<rect x="616" y="271" width="3" height="3" fill="#32cd32"/>
<rect x="621" y="267" width="1" height="29" fill="#32cd32"/>
<rect x="620" y="272" width="3" height="15" fill="#32cd32"/>
<rect x="625" y="261" width="1" height="42" fill="#32cd32"/>
<rect x="624" y="286" width="3" height="11" fill="#32cd32"/>
<rect x="629" y="281" width="1" height="41" fill="#ff0000"/>
<rect x="628" y="289" width="3" height="8" fill="#ff0000"/>
<rect x="629" y="290" width="1" height="6" fill="#ff4500"/>
<rect x="633" y="286" width="1" height="35" fill="#32cd32"/>
<rect x="632" y="290" width="3" height="5" fill="#32cd32"/>
<rect x="637" y="256" width="1" height="41" fill="#ff0000"/>
<rect x="636" y="256" width="3" height="39" fill="#ff0000"/>
<rect x="637" y="257" width="1" height="37" fill="#ff4500"/>
<rect x="641" y="252" width="1" height="11" fill="#32cd32"/>
<rect x="640" y="254" width="3" height="9" fill="#32cd32"/>
<rect x="645" y="186" width="1" height="80" fill="#ff0000"/>
<rect x="644" y="227" width="3" height="35" fill="#ff0000"/>
<rect x="645" y="228" width="1" height="33" fill="#ff4500"/>
<rect x="649" y="204" width="1" height="39" fill="#32cd32"/>
<rect x="648" y="227" width="3" height="6" fill="#32cd32"/>
<rect x="653" y="194" width="1" height="71" fill="#ff0000"/>
<rect x="652" y="211" width="3" height="22" fill="#ff0000"/>
<rect x="653" y="212" width="1" height="20" fill="#ff4500"/>
<rect x="657" y="162" width="1" height="52" fill="#ff0000"/>
<rect x="656" y="162" width="3" height="50" fill="#ff0000"/>
<rect x="657" y="163" width="1" height="48" fill="#ff4500"/>
<rect x="661" y="135" width="1" height="46" fill="#ff0000"/>
<rect x="660" y="141" width="3" height="21" fill="#ff0000"/>
<rect x="661" y="142" width="1" height="19" fill="#ff4500"/>
<rect x="665" y="146" width="1" height="10" fill="#32cd32"/>
<rect x="664" y="152" width="3" height="4" fill="#32cd32"/>
<rect x="669" y="147" width="1" height="51" fill="#32cd32"/>
<rect x="668" y="155" width="3" height="23" fill="#32cd32"/>
<rect x="673" y="173" width="1" height="39" fill="#32cd32"/>
<rect x="672" y="178" width="3" height="16" fill="#32cd32"/>
<rect x="677" y="184" width="1" height="31" fill="#32cd32"/>
<rect x="676" y="193" width="3" height="2" fill="#32cd32"/>
<rect x="681" y="179" width="1" height="31" fill="#32cd32"/>
<rect x="680" y="195" width="3" height="5" fill="#32cd32"/>
<rect x="685" y="140" width="1" height="68" fill="#ff0000"/>
<rect x="684" y="160" width="3" height="38" fill="#ff0000"/>
<rect x="685" y="161" width="1" height="36" fill="#ff4500"/>
<rect x="689" y="159" width="1" height="5" fill="#32cd32"/>
<rect x="688" y="161" width="3" height="3" fill="#32cd32"/>
<rect x="693" y="157" width="1" height="53" fill="#32cd32"/>
<rect x="692" y="163" width="3" height="44" fill="#32cd32"/>
<rect x="697" y="176" width="1" height="34" fill="#ff0000"/>
<rect x="696" y="184" width="3" height="23" fill="#ff0000"/>
<rect x="697" y="185" width="1" height="21" fill="#ff4500"/>
<rect x="701" y="179" width="1" height="28" fill="#32cd32"/>
<rect x="700" y="184" width="3" height="17" fill="#32cd32"/>
<rect x="705" y="169" width="1" height="53" fill="#ff0000"/>
<rect x="704" y="169" width="3" height="32" fill="#ff0000"/>
<rect x="705" y="170" width="1" height="30" fill="#ff4500"/>
<rect x="709" y="160" width="1" height="44" fill="#ff0000"/>
<rect x="708" y="165" width="3" height="5" fill="#ff0000"/>
<rect x="709" y="166" width="1" height="3" fill="#ff4500"/>
<rect x="713" y="165" width="1" height="12" fill="#32cd32"/>
<rect x="712" y="169" width="3" height="5" fill="#32cd32"/>
<rect x="717" y="142" width="1" height="35" fill="#ff0000"/>
<rect x="716" y="172" width="3" height="3" fill="#ff0000"/>
<rect x="717" y="173" width="1" height="1" fill="#ff4500"/>
<rect x="721" y="148" width="1" height="39" fill="#32cd32"/>
<rect x="720" y="172" width="3" height="3" fill="#32cd32"/>
<rect x="725" y="174" width="1" height="34" fill="#32cd32"/>
<rect x="724" y="174" width="3" height="16" fill="#32cd32"/>
<rect x="729" y="169" width="1" height="32" fill="#ff0000"/>
<rect x="728" y="182" width="3" height="8" fill="#ff0000"/>
<rect x="729" y="183" width="1" height="6" fill="#ff4500"/>
<rect x="733" y="156" width="1" height="47" fill="#ff0000"/>
<rect x="732" y="164" width="3" height="19" fill="#ff0000"/>
<rect x="733" y="165" width="1" height="17" fill="#ff4500"/>
<rect x="737" y="155" width="1" height="7" fill="#ff0000"/>
<rect x="736" y="158" width="3" height="4" fill="#ff0000"/>
<rect x="737" y="159" width="1" height="2" fill="#ff4500"/>
<rect x="741" y="152" width="1" height="24" fill="#ff0000"/>
<rect x="740" y="157" width="3" height="3" fill="#ff0000"/>
<rect x="741" y="158" width="1" height="1" fill="#ff4500"/>
<rect x="745" y="143" width="1" height="35" fill="#ff0000"/>
<rect x="744" y="151" width="3" height="9" fill="#ff0000"/>
<rect x="745" y="152" width="1" height="7" fill="#ff4500"/>
<rect x="749" y="151" width="1" height="47" fill="#32cd32"/>
<rect x="748" y="151" width="3" height="19" fill="#32cd32"/>
<rect x="753" y="110" width="1" height="61" fill="#ff0000"/>
<rect x="752" y="130" width="3" height="40" fill="#ff0000"/>
<rect x="753" y="131" width="1" height="38" fill="#ff4500"/>
<rect x="757" y="123" width="1" height="60" fill="#32cd32"/>
<rect x="756" y="130" width="3" height="53" fill="#32cd32"/>
<rect x="761" y="155" width="1" height="11" fill="#ff0000"/>
<rect x="760" y="158" width="3" height="3" fill="#ff0000"/>
<rect x="761" y="159" width="1" height="1" fill="#ff4500"/>
<rect x="765" y="129" width="1" height="81" fill="#32cd32"/>
<rect x="764" y="157" width="3" height="49" fill="#32cd32"/>
<rect x="769" y="160" width="1" height="53" fill="#ff0000"/>
<rect x="768" y="174" width="3" height="32" fill="#ff0000"/>
<rect x="769" y="175" width="1" height="30" fill="#ff4500"/>
<rect x="773" y="163" width="1" height="64" fill="#32cd32"/>
<rect x="772" y="175" width="3" height="42" fill="#32cd32"/>
<rect x="777" y="191" width="1" height="58" fill="#ff0000"/>
<rect x="776" y="203" width="3" height="14" fill="#ff0000"/>
<rect x="777" y="204" width="1" height="12" fill="#ff4500"/>
<rect x="781" y="138" width="1" height="67" fill="#ff0000"/>
<rect x="780" y="165" width="3" height="39" fill="#ff0000"/>
<rect x="781" y="166" width="1" height="37" fill="#ff4500"/>
<rect x="785" y="157" width="1" height="24" fill="#32cd32"/>
<rect x="784" y="170" width="3" height="10" fill="#32cd32"/>
<rect x="789" y="123" width="1" height="73" fill="#ff0000"/>
<rect x="788" y="134" width="3" height="46" fill="#ff0000"/>
<rect x="789" y="135" width="1" height="44" fill="#ff4500"/>
<rect x="793" y="80" width="1" height="57" fill="#ff0000"/>
<rect x="792" y="84" width="3" height="51" fill="#ff0000"/>
<rect x="793" y="85" width="1" height="49" fill="#ff4500"/>
<rect x="797" y="84" width="1" height="52" fill="#32cd32"/>
<rect x="796" y="84" width="3" height="51" fill="#32cd32"/>
<rect x="801" y="111" width="1" height="49" fill="#32cd32"/>
<rect x="800" y="134" width="3" height="24" fill="#32cd32"/>
<rect x="805" y="137" width="1" height="55" fill="#32cd32"/>
<rect x="804" y="158" width="3" height="17" fill="#32cd32"/>
<rect x="809" y="166" width="1" height="6" fill="#32cd32"/>
<rect x="808" y="166" width="3" height="2" fill="#32cd32"/>
<rect x="813" y="119" width="1" height="52" fill="#ff0000"/>
<rect x="812" y="122" width="3" height="46" fill="#ff0000"/>
<rect x="813" y="123" width="1" height="44" fill="#ff4500"/>
<rect x="817" y="95" width="1" height="60" fill="#32cd32"/>
<rect x="816" y="122" width="3" height="28" fill="#32cd32"/>
<rect x="821" y="146" width="1" height="56" fill="#32cd32"/>
<rect x="820" y="149" width="3" height="46" fill="#32cd32"/>
<rect x="825" y="188" width="1" height="47" fill="#32cd32"/>
<rect x="824" y="194" width="3" height="30" fill="#32cd32"/>
<rect x="829" y="216" width="1" height="29" fill="#32cd32"/>
<rect x="828" y="223" width="3" height="19" fill="#32cd32"/>
<rect x="833" y="238" width="1" height="6" fill="#ff0000"/>
<rect x="832" y="238" width="3" height="3" fill="#ff0000"/>
<rect x="833" y="239" width="1" height="1" fill="#ff4500"/>
<rect x="837" y="229" width="1" height="32" fill="#32cd32"/>
<rect x="836" y="238" width="3" height="10" fill="#32cd32"/>
<rect x="841" y="228" width="1" height="33" fill="#32cd32"/>
<rect x="840" y="247" width="3" height="4" fill="#32cd32"/>
<rect x="845" y="238" width="1" height="35" fill="#32cd32"/>
<rect x="844" y="250" width="3" height="14" fill="#32cd32"/>
<rect x="849" y="248" width="1" height="42" fill="#32cd32"/>
<rect x="848" y="263" width="3" height="21" fill="#32cd32"/>
<rect x="853" y="266" width="1" height="46" fill="#32cd32"/>
<rect x="852" y="283" width="3" height="28" fill="#32cd32"/>
<rect x="857" y="302" width="1" height="5" fill="#ff0000"/>
<rect x="856" y="302" width="3" height="2" fill="#ff0000"/>
<rect x="861" y="245" width="1" height="65" fill="#ff0000"/>
<rect x="860" y="283" width="3" height="20" fill="#ff0000"/>
<rect x="861" y="284" width="1" height="18" fill="#ff4500"/>
<rect x="865" y="279" width="1" height="33" fill="#32cd32"/>
<rect x="864" y="283" width="3" height="14" fill="#32cd32"/>
<rect x="869" y="290" width="1" height="43" fill="#32cd32"/>
<rect x="868" y="295" width="3" height="9" fill="#32cd32"/>
<rect x="873" y="277" width="1" height="38" fill="#ff0000"/>
<rect x="872" y="294" width="3" height="10" fill="#ff0000"/>
<rect x="873" y="295" width="1" height="8" fill="#ff4500"/>
<rect x="877" y="273" width="1" height="33" fill="#ff0000"/>
<rect x="876" y="289" width="3" height="6" fill="#ff0000"/>
<rect x="877" y="290" width="1" height="4" fill="#ff4500"/>
<rect x="881" y="280" width="1" height="4" fill="#ff0000"/>
<rect x="880" y="280" width="3" height="4" fill="#ff0000"/>
<rect x="881" y="281" width="1" height="2" fill="#ff4500"/>
<rect x="885" y="279" width="1" height="34" fill="#32cd32"/>
<rect x="884" y="280" width="3" height="23" fill="#32cd32"/>
<rect x="889" y="296" width="1" height="52" fill="#32cd32"/>
<rect x="888" y="301" width="3" height="3" fill="#32cd32"/>
<rect x="893" y="259" width="1" height="48" fill="#ff0000"/>
<rect x="892" y="260" width="3" height="44" fill="#ff0000"/>
<rect x="893" y="261" width="1" height="42" fill="#ff4500"/>
<rect x="897" y="235" width="1" height="40" fill="#ff0000"/>
<rect x="896" y="248" width="3" height="14" fill="#ff0000"/>
<rect x="897" y="249" width="1" height="12" fill="#ff4500"/>
<rect x="901" y="231" width="1" height="29" fill="#32cd32"/>
<rect x="900" y="248" width="3" height="11" fill="#32cd32"/>
<rect x="905" y="251" width="1" height="9" fill="#ff0000"/>
<rect x="904" y="251" width="3" height="8" fill="#ff0000"/>
<rect x="905" y="252" width="1" height="6" fill="#ff4500"/>
<rect x="909" y="217" width="1" height="40" fill="#ff0000"/>
<rect x="908" y="219" width="3" height="33" fill="#ff0000"/>
<rect x="909" y="220" width="1" height="31" fill="#ff4500"/>
<rect x="913" y="208" width="1" height="44" fill="#32cd32"/>
<rect x="912" y="219" width="3" height="4" fill="#32cd32"/>
<rect x="917" y="200" width="1" height="66" fill="#32cd32"/>
<rect x="916" y="222" width="3" height="37" fill="#32cd32"/>
<rect x="921" y="219" width="1" height="65" fill="#ff0000"/>
<rect x="920" y="237" width="3" height="22" fill="#ff0000"/>
<rect x="921" y="238" width="1" height="20" fill="#ff4500"/>
<rect x="925" y="230" width="1" height="17" fill="#32cd32"/>
<rect x="924" y="237" width="3" height="1" fill="#32cd32"/>
</g>
<g>
<rect x="4" y="425" width="3" height="34" fill="#c0c0c0"/>
<rect x="8" y="428" width="3" height="31" fill="#c0c0c0"/>
<rect x="12" y="430" width="3" height="29" fill="#c0c0c0"/>
<rect x="16" y="432" width="3" height="27" fill="#c0c0c0"/>
<rect x="20" y="434" width="3" height="25" fill="#c0c0c0"/>
<rect x="24" y="435" width="3" height="24" fill="#c0c0c0"/>
<rect x="28" y="439" width="3" height="20" fill="#c0c0c0"/>
<rect x="32" y="443" width="3" height="16" fill="#c0c0c0"/>
<rect x="36" y="446" width="3" height="13" fill="#c0c0c0"/>
<rect x="40" y="449" width="3" height="10" fill="#c0c0c0"/>
<rect x="44" y="451" width="3" height="8" fill="#c0c0c0"/>
<rect x="48" y="451" width="3" height="8" fill="#c0c0c0"/>
<rect x="52" y="451" width="3" height="8" fill="#c0c0c0"/>
<rect x="56" y="452" width="3" height="7" fill="#c0c0c0"/>
<rect x="60" y="451" width="3" height="8" fill="#c0c0c0"/>
<rect x="64" y="451" width="3" height="8" fill="#c0c0c0"/>
<rect x="68" y="451" width="3" height="8" fill="#c0c0c0"/>
<rect x="72" y="452" width="3" height="7" fill="#c0c0c0"/>
<rect x="76" y="453" width="3" height="6" fill="#c0c0c0"/>
<rect x="80" y="454" width="3" height="5" fill="#c0c0c0"/>
<rect x="84" y="454" width="3" height="5" fill="#c0c0c0"/>
<rect x="88" y="455" width="3" height="4" fill="#c0c0c0"/>
<rect x="92" y="454" width="3" height="5" fill="#c0c0c0"/>
<rect x="96" y="452" width="3" height="7" fill="#c0c0c0"/>
<rect x="100" y="449" width="3" height="10" fill="#c0c0c0"/>
<rect x="104" y="442" width="3" height="17" fill="#c0c0c0"/>
<rect x="108" y="436" width="3" height="23" fill="#c0c0c0"/>
<rect x="112" y="432" width="3" height="27" fill="#c0c0c0"/>
<rect x="116" y="435" width="3" height="24" fill="#c0c0c0"/>
<rect x="120" y="439" width="3" height="20" fill="#c0c0c0"/>
<rect x="124" y="442" width="3" height="17" fill="#c0c0c0"/>
<rect x="128" y="441" width="3" height="18" fill="#c0c0c0"/>
<rect x="132" y="444" width="3" height="15" fill="#c0c0c0"/>
<rect x="136" y="447" width="3" height="12" fill="#c0c0c0"/>
<rect x="140" y="448" width="3" height="11" fill="#c0c0c0"/>
<rect x="144" y="450" width="3" height="9" fill="#c0c0c0"/>
<rect x="148" y="451" width="3" height="8" fill="#c0c0c0"/>
<rect x="152" y="454" width="3" height="5" fill="#c0c0c0"/>
<rect x="156" y="457" width="3" height="2" fill="#c0c0c0"/>
<rect x="160" y="459" width="3" height="1" fill="#c0c0c0"/>
<rect x="164" y="459" width="3" height="3" fill="#c0c0c0"/>
<rect x="168" y="459" width="3" height="1" fill="#c0c0c0"/>
<rect x="172" y="456" width="3" height="3" fill="#c0c0c0"/>
<rect x="176" y="455" width="3" height="4" fill="#c0c0c0"/>
<rect x="180" y="454" width="3" height="5" fill="#c0c0c0"/>
<rect x="184" y="452" width="3" height="7" fill="#c0c0c0"/>
<rect x="188" y="452" width="3" height="7" fill="#c0c0c0"/>
<rect x="192" y="451" width="3" height="8" fill="#c0c0c0"/>
<rect x="196" y="453" width="3" height="6" fill="#c0c0c0"/>
<rect x="200" y="452" width="3" height="7" fill="#c0c0c0"/>
<rect x="204" y="449" width="3" height="10" fill="#c0c0c0"/>
<rect x="208" y="447" width="3" height="12" fill="#c0c0c0"/>
<rect x="212" y="444" width="3" height="15" fill="#c0c0c0"/>
<rect x="216" y="442" width="3" height="17" fill="#c0c0c0"/>
<rect x="220" y="441" width="3" height="18" fill="#c0c0c0"/>
<rect x="224" y="444" width="3" height="15" fill="#c0c0c0"/>
<rect x="228" y="447" width="3" height="12" fill="#c0c0c0"/>
<rect x="232" y="449" width="3" height="10" fill="#c0c0c0"/>
<rect x="236" y="452" width="3" height="7" fill="#c0c0c0"/>
<rect x="240" y="453" width="3" height="6" fill="#c0c0c0"/>
<rect x="244" y="451" width="3" height="8" fill="#c0c0c0"/>
<rect x="248" y="452" width="3" height="7" fill="#c0c0c0"/>
<rect x="252" y="455" width="3" height="4" fill="#c0c0c0"/>
<rect x="256" y="457" width="3" height="2" fill="#c0c0c0"/>
<rect x="260" y="459" width="3" height="1" fill="#c0c0c0"/>
<rect x="264" y="459" width="3" height="4" fill="#c0c0c0"/>
<rect x="268" y="459" width="3" height="5" fill="#c0c0c0"/>
<rect x="272" y="459" width="3" height="8" fill="#c0c0c0"/>
<rect x="276" y="459" width="3" height="12" fill="#c0c0c0"/>
<rect x="280" y="459" width="3" height="15" fill="#c0c0c0"/>
<rect x="284" y="459" width="3" height="17" fill="#c0c0c0"/>
<rect x="288" y="459" width="3" height="18" fill="#c0c0c0"/>
<rect x="292" y="459" width="3" height="20" fill="#c0c0c0"/>
<rect x="296" y="459" width="3" height="23" fill="#c0c0c0"/>
<rect x="300" y="459" width="3" height="25" fill="#c0c0c0"/>
<rect x="304" y="459" width="3" height="27" fill="#c0c0c0"/>
<rect x="308" y="459" width="3" height="28" fill="#c0c0c0"/>
<rect x="312" y="459" width="3" height="29" fill="#c0c0c0"/>
<rect x="316" y="459" width="3" height="30" fill="#c0c0c0"/>
<rect x="320" y="459" width="3" height="30" fill="#c0c0c0"/>
<rect x="324" y="459" width="3" height="29" fill="#c0c0c0"/>
<rect x="328" y="459" width="3" height="28" fill="#c0c0c0"/>
<rect x="332" y="459" width="3" height="26" fill="#c0c0c0"/>
<rect x="336" y="459" width="3" height="25" fill="#c0c0c0"/>
<rect x="340" y="459" width="3" height="24" fill="#c0c0c0"/>
<rect x="344" y="459" width="3" height="24" fill="#c0c0c0"/>
<rect x="348" y="459" width="3" height="22" fill="#c0c0c0"/>
<rect x="352" y="459" width="3" height="21" fill="#c0c0c0"/>
<rect x="356" y="459" width="3" height="20" fill="#c0c0c0"/>
<rect x="360" y="459" width="3" height="18" fill="#c0c0c0"/>
<rect x="364" y="459" width="3" height="16" fill="#c0c0c0"/>
<rect x="368" y="459" width="3" height="13" fill="#c0c0c0"/>
<rect x="372" y="459" width="3" height="11" fill="#c0c0c0"/>
<rect x="376" y="459" width="3" height="8" fill="#c0c0c0"/>
<rect x="380" y="459" width="3" height="7" fill="#c0c0c0"/>
<rect x="384" y="459" width="3" height="6" fill="#c0c0c0"/>
<rect x="388" y="459" width="3" height="4" fill="#c0c0c0"/>
<rect x="392" y="457" width="3" height="2" fill="#c0c0c0"/>
<rect x="396" y="454" width="3" height="5" fill="#c0c0c0"/>
<rect x="400" y="452" width="3" height="7" fill="#c0c0c0"/>
<rect x="404" y="452" width="3" height="7" fill="#c0c0c0"/>
<rect x="408" y="450" width="3" height="9" fill="#c0c0c0"/>
<rect x="412" y="447" width="3" height="12" fill="#c0c0c0"/>
<rect x="416" y="445" width="3" height="14" fill="#c0c0c0"/>
<rect x="420" y="443" width="3" height="16" fill="#c0c0c0"/>
<rect x="424" y="441" width="3" height="18" fill="#c0c0c0"/>
<rect x="428" y="438" width="3" height="21" fill="#c0c0c0"/>
<rect x="432" y="437" width="3" height="22" fill="#c0c0c0"/>
<rect x="436" y="437" width="3" height="22" fill="#c0c0c0"/>
<rect x="440" y="437" width="3" height="22" fill="#c0c0c0"/>
<rect x="444" y="434" width="3" height="25" fill="#c0c0c0"/>
<rect x="448" y="433" width="3" height="26" fill="#c0c0c0"/>
<rect x="452" y="433" width="3" height="26" fill="#c0c0c0"/>
<rect x="456" y="431" width="3" height="28" fill="#c0c0c0"/>
<rect x="460" y="430" width="3" height="29" fill="#c0c0c0"/>
<rect x="464" y="429" width="3" height="30" fill="#c0c0c0"/>
<rect x="468" y="427" width="3" height="32" fill="#c0c0c0"/>
<rect x="472" y="427" width="3" height="32" fill="#c0c0c0"/>
<rect x="476" y="429" width="3" height="30" fill="#c0c0c0"/>
<rect x="480" y="435" width="3" height="24" fill="#c0c0c0"/>
<rect x="484" y="439" width="3" height="20" fill="#c0c0c0"/>
<rect x="488" y="441" width="3" height="18" fill="#c0c0c0"/>
<rect x="492" y="442" width="3" height="17" fill="#c0c0c0"/>
<rect x="496" y="443" width="3" height="16" fill="#c0c0c0"/>
<rect x="500" y="442" width="3" height="17" fill="#c0c0c0"/>
<rect x="504" y="439" width="3" height="20" fill="#c0c0c0"/>
<rect x="508" y="438" width="3" height="21" fill="#c0c0c0"/>
<rect x="512" y="440" width="3" height="19" fill="#c0c0c0"/>
<rect x="516" y="438" width="3" height="21" fill="#c0c0c0"/>
<rect x="520" y="436" width="3" height="23" fill="#c0c0c0"/>
<rect x="524" y="434" width="3" height="25" fill="#c0c0c0"/>
<rect x="528" y="433" width="3" height="26" fill="#c0c0c0"/>
<rect x="532" y="434" width="3" height="25" fill="#c0c0c0"/>
<rect x="536" y="437" width="3" height="22" fill="#c0c0c0"/>
<rect x="540" y="439" width="3" height="20" fill="#c0c0c0"/>
<rect x="544" y="441" width="3" height="18" fill="#c0c0c0"/>
<rect x="548" y="444" width="3" height="15" fill="#c0c0c0"/>
<rect x="552" y="445" width="3" height="14" fill="#c0c0c0"/>
<rect x="556" y="447" width="3" height="12" fill="#c0c0c0"/>
<rect x="560" y="450" width="3" height="9" fill="#c0c0c0"/>
<rect x="564" y="456" width="3" height="3" fill="#c0c0c0"/>
<rect x="568" y="459" width="3" height="2" fill="#c0c0c0"/>
<rect x="572" y="459" width="3" height="2" fill="#c0c0c0"/>
<rect x="576" y="459" width="3" height="3" fill="#c0c0c0"/>
<rect x="580" y="459" width="3" height="3" fill="#c0c0c0"/>
<rect x="584" y="459" width="3" height="3" fill="#c0c0c0"/>
<rect x="588" y="459" width="3" height="7" fill="#c0c0c0"/>
<rect x="592" y="459" width="3" height="9" fill="#c0c0c0"/>
<rect x="596" y="459" width="3" height="10" fill="#c0c0c0"/>
<rect x="600" y="459" width="3" height="13" fill="#c0c0c0"/>
<rect x="604" y="459" width="3" height="17" fill="#c0c0c0"/>
<rect x="608" y="459" width="3" height="21" fill="#c0c0c0"/>
<rect x="612" y="459" width="3" height="21" fill="#c0c0c0"/>
<rect x="616" y="459" width="3" height="22" fill="#c0c0c0"/>
<rect x="620" y="459" width="3" height="24" fill="#c0c0c0"/>
<rect x="624" y="459" width="3" height="25" fill="#c0c0c0"/>
<rect x="628" y="459" width="3" height="25" fill="#c0c0c0"/>
<rect x="632" y="459" width="3" height="25" fill="#c0c0c0"/>
<rect x="636" y="459" width="3" height="23" fill="#c0c0c0"/>
<rect x="640" y="459" width="3" height="23" fill="#c0c0c0"/>
<rect x="644" y="459" width="3" height="18" fill="#c0c0c0"/>
<rect x="648" y="459" width="3" height="16" fill="#c0c0c0"/>
<rect x="652" y="459" width="3" height="12" fill="#c0c0c0"/>
<rect x="656" y="459" width="3" height="7" fill="#c0c0c0"/>
<rect x="660" y="459" width="3" height="1" fill="#c0c0c0"/>
<rect x="664" y="456" width="3" height="3" fill="#c0c0c0"/>
<rect x="668" y="454" width="3" height="5" fill="#c0c0c0"/>
<rect x="672" y="454" width="3" height="5" fill="#c0c0c0"/>
<rect x="676" y="454" width="3" height="5" fill="#c0c0c0"/>
<rect x="680" y="454" width="3" height="5" fill="#c0c0c0"/>
<rect x="684" y="452" width="3" height="7" fill="#c0c0c0"/>
<rect x="688" y="451" width="3" height="8" fill="#c0c0c0"/>
<rect x="692" y="452" width="3" height="7" fill="#c0c0c0"/>
<rect x="696" y="452" width="3" height="7" fill="#c0c0c0"/>
<rect x="700" y="454" width="3" height="5" fill="#c0c0c0"/>
<rect x="704" y="453" width="3" height="6" fill="#c0c0c0"/>
<rect x="708" y="452" width="3" height="7" fill="#c0c0c0"/>
<rect x="712" y="452" width="3" height="7" fill="#c0c0c0"/>
<rect x="716" y="451" width="3" height="8" fill="#c0c0c0"/>
<rect x="720" y="452" width="3" height="7" fill="#c0c0c0"/>
<rect x="724" y="453" width="3" height="6" fill="#c0c0c0"/>
<rect x="728" y="453" width="3" height="6" fill="#c0c0c0"/>
<rect x="732" y="453" width="3" height="6" fill="#c0c0c0"/>
<rect x="736" y="452" width="3" height="7" fill="#c0c0c0"/>
<rect x="740" y="451" width="3" height="8" fill="#c0c0c0"/>
<rect x="744" y="451" width="3" height="8" fill="#c0c0c0"/>
<rect x="748" y="451" width="3" height="8" fill="#c0c0c0"/>
<rect x="752" y="450" width="3" height="9" fill="#c0c0c0"/>
<rect x="756" y="451" width="3" height="8" fill="#c0c0c0"/>
<rect x="760" y="452" width="3" height="7" fill="#c0c0c0"/>
<rect x="764" y="454" width="3" height="5" fill="#c0c0c0"/>
<rect x="768" y="455" width="3" height="4" fill="#c0c0c0"/>
<rect x="772" y="457" width="3" height="2" fill="#c0c0c0"/>
<rect x="776" y="459" width="3" height="1" fill="#c0c0c0"/>
<rect x="780" y="458" width="3" height="1" fill="#c0c0c0"/>
<rect x="784" y="458" width="3" height="1" fill="#c0c0c0"/>
<rect x="788" y="456" width="3" height="3" fill="#c0c0c0"/>
<rect x="792" y="451" width="3" height="8" fill="#c0c0c0"/>
<rect x="796" y="450" width="3" height="9" fill="#c0c0c0"/>
<rect x="800" y="451" width="3" height="8" fill="#c0c0c0"/>
<rect x="804" y="452" width="3" height="7" fill="#c0c0c0"/>
<rect x="808" y="454" width="3" height="5" fill="#c0c0c0"/>
<rect x="812" y="452" width="3" height="7" fill="#c0c0c0"/>
<rect x="816" y="452" width="3" height="7" fill="#c0c0c0"/>
<rect x="820" y="456" width="3" height="3" fill="#c0c0c0"/>
<rect x="824" y="459" width="3" height="1" fill="#c0c0c0"/>
<rect x="828" y="459" width="3" height="4" fill="#c0c0c0"/>
<rect x="832" y="459" width="3" height="7" fill="#c0c0c0"/>
<rect x="836" y="459" width="3" height="10" fill="#c0c0c0"/>
<rect x="840" y="459" width="3" height="12" fill="#c0c0c0"/>
<rect x="844" y="459" width="3" height="14" fill="#c0c0c0"/>
<rect x="848" y="459" width="3" height="17" fill="#c0c0c0"/>
<rect x="852" y="459" width="3" height="20" fill="#c0c0c0"/>
<rect x="856" y="459" width="3" height="22" fill="#c0c0c0"/>
<rect x="860" y="459" width="3" height="23" fill="#c0c0c0"/>
<rect x="864" y="459" width="3" height="23" fill="#c0c0c0"/>
<rect x="868" y="459" width="3" height="24" fill="#c0c0c0"/>
<rect x="872" y="459" width="3" height="24" fill="#c0c0c0"/>
<rect x="876" y="459" width="3" height="23" fill="#c0c0c0"/>
<rect x="880" y="459" width="3" height="22" fill="#c0c0c0"/>
<rect x="884" y="459" width="3" height="22" fill="#c0c0c0"/>
<rect x="888" y="459" width="3" height="22" fill="#c0c0c0"/>
<rect x="892" y="459" width="3" height="19" fill="#c0c0c0"/>
<rect x="896" y="459" width="3" height="16" fill="#c0c0c0"/>
<rect x="900" y="459" width="3" height="14" fill="#c0c0c0"/>
<rect x="904" y="459" width="3" height="12" fill="#c0c0c0"/>
<rect x="908" y="459" width="3" height="8" fill="#c0c0c0"/>
<rect x="912" y="459" width="3" height="5" fill="#c0c0c0"/>
<rect x="916" y="459" width="3" height="5" fill="#c0c0c0"/>
<rect x="920" y="459" width="3" height="4" fill="#c0c0c0"/>
<rect x="924" y="459" width="3" height="3" fill="#c0c0c0"/>
</g>
<path d="M11 426h8v1h-8zM8 427h3v1h-3zM19 427h7v1h-7zM6 428h2v1h-2zM26 428h2v1h-2zM5 429h1v1h-1zM28 429h2v1h-2zM30 430h2v1h-2zM479 430h4v1h-4zM32 431h2v1h-2zM471 431h8v1h-8zM483 431h4v1h-4zM34 432h1v1h-1zM468 432h3v1h-3zM487 432h4v1h-4zM35 433h2v1h-2zM466 433h2v1h-2zM491 433h3v1h-3zM37 434h1v1h-1zM463 434h3v1h-3zM494 434h2v1h-2zM38 435h1v1h-1zM459 435h4v1h-4zM496 435h3v1h-3zM39 436h2v1h-2zM455 436h4v1h-4zM499 436h3v1h-3zM41 437h1v1h-1zM452 437h3v1h-3zM502 437h2v1h-2zM535 437h16v1h-16zM42 438h1v1h-1zM450 438h2v1h-2zM504 438h3v1h-3zM527 438h8v1h-8zM551 438h4v1h-4zM43 439h2v1h-2zM447 439h3v1h-3zM507 439h4v1h-4zM523 439h4v1h-4zM555 439h3v1h-3zM45 440h1v1h-1zM131 440h8v1h-8zM444 440h3v1h-3zM511 440h12v1h-12zM558 440h2v1h-2zM46 441h2v1h-2zM127 441h4v1h-4zM139 441h4v1h-4zM442 441h2v1h-2zM560 441h2v1h-2zM48 442h2v1h-2zM123 442h4v1h-4zM143 442h3v1h-3zM440 442h2v1h-2zM562 442h1v1h-1zM50 443h2v1h-2zM120 443h3v1h-3zM146 443h2v1h-2zM438 443h2v1h-2zM563 443h2v1h-2zM52 444h2v1h-2zM118 444h2v1h-2zM148 444h2v1h-2zM435 444h3v1h-3zM565 444h1v1h-1zM54 445h2v1h-2zM116 445h2v1h-2zM150 445h2v1h-2zM432 445h3v1h-3zM566 445h2v1h-2zM56 446h2v1h-2zM114 446h2v1h-2zM152 446h2v1h-2zM430 446h2v1h-2zM568 446h2v1h-2zM58 447h2v1h-2zM113 447h1v1h-1zM154 447h2v1h-2zM223 447h24v1h-24zM428 447h2v1h-2zM570 447h1v1h-1zM60 448h3v1h-3zM111 448h2v1h-2zM156 448h2v1h-2zM219 448h4v1h-4zM247 448h4v1h-4zM426 448h2v1h-2zM571 448h2v1h-2zM63 449h4v1h-4zM110 449h1v1h-1zM158 449h2v1h-2zM216 449h3v1h-3zM251 449h3v1h-3zM424 449h2v1h-2zM573 449h1v1h-1zM67 450h4v1h-4zM107 450h3v1h-3zM160 450h2v1h-2zM214 450h2v1h-2zM254 450h2v1h-2zM422 450h2v1h-2zM574 450h1v1h-1zM71 451h4v1h-4zM103 451h4v1h-4zM162 451h2v1h-2zM211 451h3v1h-3zM256 451h2v1h-2zM421 451h1v1h-1zM575 451h2v1h-2zM75 452h12v1h-12zM99 452h4v1h-4zM164 452h2v1h-2zM208 452h3v1h-3zM258 452h2v1h-2zM419 452h2v1h-2zM577 452h1v1h-1zM719 452h52v1h-52zM819 452h4v1h-4zM87 453h4v1h-4zM95 453h4v1h-4zM166 453h2v1h-2zM206 453h2v1h-2zM260 453h3v1h-3zM418 453h1v1h-1zM578 453h2v1h-2zM711 453h8v1h-8zM771 453h8v1h-8zM811 453h8v1h-8zM823 453h4v1h-4zM91 454h4v1h-4zM168 454h3v1h-3zM203 454h3v1h-3zM263 454h3v1h-3zM417 454h1v1h-1zM580 454h2v1h-2zM695 454h16v1h-16zM779 454h4v1h-4zM807 454h4v1h-4zM827 454h3v1h-3zM171 455h4v1h-4zM199 455h4v1h-4zM266 455h2v1h-2zM415 455h2v1h-2zM582 455h2v1h-2zM691 455h4v1h-4zM783 455h24v1h-24zM830 455h2v1h-2zM175 456h24v1h-24zM268 456h3v1h-3zM414 456h1v1h-1zM584 456h2v1h-2zM689 456h2v1h-2zM832 456h2v1h-2zM271 457h3v1h-3zM412 457h2v1h-2zM586 457h2v1h-2zM687 457h2v1h-2zM834 457h2v1h-2zM274 458h2v1h-2zM410 458h2v1h-2zM588 458h2v1h-2zM686 458h1v1h-1zM836 458h2v1h-2zM276 459h2v1h-2zM408 459h2v1h-2zM590 459h2v1h-2zM684 459h2v1h-2zM838 459h2v1h-2zM278 460h1v1h-1zM406 460h2v1h-2zM592 460h2v1h-2zM682 460h2v1h-2zM840 460h2v1h-2zM279 461h2v1h-2zM404 461h2v1h-2zM594 461h1v1h-1zM680 461h2v1h-2zM842 461h2v1h-2zM281 462h1v1h-1zM402 462h2v1h-2zM595 462h2v1h-2zM678 462h2v1h-2zM844 462h2v1h-2zM282 463h2v1h-2zM401 463h1v1h-1zM597 463h2v1h-2zM677 463h1v1h-1zM846 463h2v1h-2zM284 464h2v1h-2zM399 464h2v1h-2zM599 464h4v1h-4zM675 464h2v1h-2zM848 464h2v1h-2zM286 465h1v1h-1zM398 465h1v1h-1zM603 465h3v1h-3zM674 465h1v1h-1zM850 465h1v1h-1zM287 466h2v1h-2zM396 466h2v1h-2zM606 466h2v1h-2zM673 466h1v1h-1zM851 466h2v1h-2zM289 467h1v1h-1zM394 467h2v1h-2zM608 467h2v1h-2zM672 467h1v1h-1zM853 467h1v1h-1zM290 468h2v1h-2zM392 468h2v1h-2zM610 468h2v1h-2zM671 468h1v1h-1zM854 468h1v1h-1zM924 468h2v1h-2zM292 469h2v1h-2zM390 469h2v1h-2zM612 469h2v1h-2zM670 469h1v1h-1zM855 469h2v1h-2zM922 469h2v1h-2zM294 470h1v1h-1zM388 470h2v1h-2zM614 470h1v1h-1zM669 470h1v1h-1zM857 470h1v1h-1zM920 470h2v1h-2zM295 471h2v1h-2zM386 471h2v1h-2zM615 471h2v1h-2zM667 471h2v1h-2zM858 471h1v1h-1zM918 471h2v1h-2zM297 472h1v1h-1zM384 472h2v1h-2zM617 472h1v1h-1zM666 472h1v1h-1zM859 472h2v1h-2zM916 472h2v1h-2zM298 473h2v1h-2zM382 473h2v1h-2zM618 473h2v1h-2zM665 473h1v1h-1zM861 473h1v1h-1zM914 473h2v1h-2zM300 474h2v1h-2zM380 474h2v1h-2zM620 474h2v1h-2zM663 474h2v1h-2zM862 474h2v1h-2zM912 474h2v1h-2zM302 475h1v1h-1zM378 475h2v1h-2zM622 475h2v1h-2zM662 475h1v1h-1zM864 475h2v1h-2zM910 475h2v1h-2zM303 476h2v1h-2zM375 476h3v1h-3zM624 476h2v1h-2zM660 476h2v1h-2zM866 476h2v1h-2zM907 476h3v1h-3zM305 477h1v1h-1zM372 477h3v1h-3zM626 477h2v1h-2zM658 477h2v1h-2zM868 477h3v1h-3zM904 477h3v1h-3zM306 478h2v1h-2zM370 478h2v1h-2zM628 478h2v1h-2zM656 478h2v1h-2zM871 478h4v1h-4zM902 478h2v1h-2zM308 479h2v1h-2zM368 479h2v1h-2zM630 479h2v1h-2zM654 479h2v1h-2zM875 479h4v1h-4zM899 479h3v1h-3zM310 480h2v1h-2zM366 480h2v1h-2zM632 480h2v1h-2zM651 480h3v1h-3zM879 480h4v1h-4zM895 480h4v1h-4zM312 481h3v1h-3zM363 481h3v1h-3zM634 481h2v1h-2zM647 481h4v1h-4zM883 481h12v1h-12zM315 482h3v1h-3zM359 482h4v1h-4zM636 482h11v1h-11zM318 483h2v1h-2zM355 483h4v1h-4zM320 484h3v1h-3zM351 484h4v1h-4zM323 485h4v1h-4zM347 485h4v1h-4zM327 486h8v1h-8zM343 486h4v1h-4zM335 487h8v1h-8z" fill="#ff0000"/>
<line x1="5" y1="517.5" x2="1168" y2="517.5" stroke="#c0c0c0" stroke-dasharray="3 3"/>
<line x1="5" y1="546.5" x2="1168" y2="546.5" stroke="#c0c0c0" stroke-dasharray="3 3"/>
<path d="M108 513h2v1h-2zM106 514h2v1h-2zM110 514h2v1h-2zM105 515h1v1h-1zM112 515h2v1h-2zM445 515h1v1h-1zM467 515h3v1h-3zM104 516h1v1h-1zM113 516h1v1h-1zM444 516h1v1h-1zM446 516h1v1h-1zM463 516h4v1h-4zM470 516h2v1h-2zM104 517h1v1h-1zM114 517h1v1h-1zM428 517h3v1h-3zM444 517h1v1h-1zM447 517h1v1h-1zM460 517h3v1h-3zM472 517h2v1h-2zM103 518h1v1h-1zM114 518h1v1h-1zM421 518h2v1h-2zM426 518h2v1h-2zM431 518h3v1h-3zM443 518h1v1h-1zM447 518h1v1h-1zM458 518h2v1h-2zM474 518h1v1h-1zM103 519h1v1h-1zM114 519h1v1h-1zM393 519h1v1h-1zM419 519h2v1h-2zM423 519h3v1h-3zM434 519h1v1h-1zM442 519h1v1h-1zM448 519h1v1h-1zM455 519h3v1h-3zM474 519h1v1h-1zM102 520h1v1h-1zM115 520h1v1h-1zM392 520h1v1h-1zM394 520h1v1h-1zM418 520h1v1h-1zM435 520h2v1h-2zM442 520h1v1h-1zM449 520h6v1h-6zM475 520h1v1h-1zM523 520h4v1h-4zM102 521h1v1h-1zM115 521h1v1h-1zM392 521h1v1h-1zM395 521h1v1h-1zM413 521h5v1h-5zM437 521h5v1h-5zM475 521h1v1h-1zM505 521h2v1h-2zM520 521h3v1h-3zM527 521h3v1h-3zM100 522h2v1h-2zM116 522h1v1h-1zM215 522h3v1h-3zM391 522h1v1h-1zM396 522h1v1h-1zM411 522h2v1h-2zM476 522h1v1h-1zM503 522h2v1h-2zM507 522h3v1h-3zM518 522h2v1h-2zM530 522h1v1h-1zM98 523h2v1h-2zM116 523h1v1h-1zM211 523h4v1h-4zM218 523h1v1h-1zM391 523h1v1h-1zM397 523h2v1h-2zM410 523h1v1h-1zM476 523h1v1h-1zM502 523h1v1h-1zM510 523h1v1h-1zM517 523h1v1h-1zM531 523h1v1h-1zM661 523h2v1h-2zM793 523h1v1h-1zM97 524h1v1h-1zM116 524h1v1h-1zM207 524h4v1h-4zM219 524h2v1h-2zM390 524h1v1h-1zM399 524h3v1h-3zM409 524h1v1h-1zM477 524h1v1h-1zM501 524h1v1h-1zM511 524h1v1h-1zM516 524h1v1h-1zM531 524h1v1h-1zM659 524h2v1h-2zM663 524h3v1h-3zM753 524h1v1h-1zM792 524h1v1h-1zM794 524h1v1h-1zM96 525h1v1h-1zM117 525h1v1h-1zM205 525h2v1h-2zM221 525h1v1h-1zM390 525h1v1h-1zM402 525h1v1h-1zM407 525h2v1h-2zM478 525h1v1h-1zM500 525h1v1h-1zM511 525h1v1h-1zM515 525h1v1h-1zM532 525h1v1h-1zM658 525h1v1h-1zM666 525h1v1h-1zM743 525h3v1h-3zM752 525h1v1h-1zM754 525h1v1h-1zM791 525h1v1h-1zM795 525h1v1h-1zM5 526h13v1h-13zM24 526h2v1h-2zM95 526h1v1h-1zM117 526h1v1h-1zM173 526h2v1h-2zM204 526h1v1h-1zM222 526h1v1h-1zM245 526h1v1h-1zM389 526h1v1h-1zM403 526h2v1h-2zM406 526h1v1h-1zM478 526h1v1h-1zM499 526h1v1h-1zM512 526h1v1h-1zM514 526h1v1h-1zM533 526h1v1h-1zM657 526h1v1h-1zM667 526h2v1h-2zM685 526h5v1h-5zM736 526h7v1h-7zM746 526h1v1h-1zM751 526h1v1h-1zM754 526h1v1h-1zM791 526h1v1h-1zM796 526h1v1h-1zM18 527h2v1h-2zM22 527h2v1h-2zM26 527h1v1h-1zM67 527h3v1h-3zM94 527h1v1h-1zM118 527h1v1h-1zM171 527h2v1h-2zM175 527h4v1h-4zM192 527h2v1h-2zM203 527h1v1h-1zM222 527h1v1h-1zM244 527h1v1h-1zM246 527h1v1h-1zM388 527h1v1h-1zM405 527h1v1h-1zM479 527h1v1h-1zM493 527h2v1h-2zM498 527h1v1h-1zM513 527h1v1h-1zM534 527h2v1h-2zM656 527h1v1h-1zM669 527h1v1h-1zM684 527h1v1h-1zM690 527h1v1h-1zM734 527h2v1h-2zM747 527h1v1h-1zM751 527h1v1h-1zM755 527h1v1h-1zM790 527h1v1h-1zM797 527h1v1h-1zM911 527h3v1h-3zM20 528h2v1h-2zM27 528h1v1h-1zM63 528h4v1h-4zM70 528h1v1h-1zM93 528h1v1h-1zM118 528h1v1h-1zM129 528h1v1h-1zM170 528h1v1h-1zM179 528h8v1h-8zM190 528h2v1h-2zM194 528h1v1h-1zM202 528h1v1h-1zM223 528h1v1h-1zM243 528h1v1h-1zM247 528h1v1h-1zM388 528h1v1h-1zM479 528h1v1h-1zM491 528h2v1h-2zM495 528h3v1h-3zM536 528h3v1h-3zM655 528h1v1h-1zM670 528h2v1h-2zM683 528h1v1h-1zM690 528h1v1h-1zM707 528h4v1h-4zM732 528h2v1h-2zM748 528h1v1h-1zM750 528h1v1h-1zM755 528h1v1h-1zM789 528h1v1h-1zM798 528h1v1h-1zM813 528h1v1h-1zM909 528h2v1h-2zM914 528h1v1h-1zM28 529h1v1h-1zM51 529h3v1h-3zM60 529h3v1h-3zM71 529h2v1h-2zM91 529h2v1h-2zM119 529h1v1h-1zM128 529h1v1h-1zM130 529h2v1h-2zM169 529h1v1h-1zM187 529h3v1h-3zM195 529h1v1h-1zM201 529h1v1h-1zM224 529h1v1h-1zM243 529h1v1h-1zM247 529h1v1h-1zM372 529h3v1h-3zM387 529h1v1h-1zM480 529h1v1h-1zM490 529h1v1h-1zM539 529h7v1h-7zM654 529h1v1h-1zM672 529h3v1h-3zM682 529h1v1h-1zM691 529h1v1h-1zM704 529h3v1h-3zM711 529h11v1h-11zM730 529h2v1h-2zM749 529h1v1h-1zM756 529h1v1h-1zM787 529h2v1h-2zM799 529h2v1h-2zM812 529h1v1h-1zM814 529h2v1h-2zM908 529h1v1h-1zM914 529h1v1h-1zM29 530h1v1h-1zM47 530h4v1h-4zM54 530h2v1h-2zM58 530h2v1h-2zM73 530h1v1h-1zM90 530h1v1h-1zM120 530h1v1h-1zM127 530h1v1h-1zM132 530h3v1h-3zM168 530h1v1h-1zM195 530h1v1h-1zM199 530h2v1h-2zM224 530h1v1h-1zM242 530h1v1h-1zM248 530h1v1h-1zM370 530h2v1h-2zM375 530h4v1h-4zM386 530h1v1h-1zM480 530h1v1h-1zM489 530h1v1h-1zM546 530h2v1h-2zM551 530h4v1h-4zM652 530h2v1h-2zM675 530h7v1h-7zM692 530h1v1h-1zM696 530h3v1h-3zM702 530h2v1h-2zM722 530h2v1h-2zM727 530h3v1h-3zM756 530h1v1h-1zM759 530h3v1h-3zM786 530h1v1h-1zM801 530h1v1h-1zM811 530h1v1h-1zM816 530h2v1h-2zM907 530h1v1h-1zM915 530h1v1h-1zM923 530h3v1h-3zM30 531h1v1h-1zM44 531h3v1h-3zM56 531h2v1h-2zM74 531h2v1h-2zM83 531h7v1h-7zM120 531h1v1h-1zM126 531h1v1h-1zM135 531h15v1h-15zM168 531h1v1h-1zM196 531h1v1h-1zM198 531h1v1h-1zM225 531h2v1h-2zM241 531h1v1h-1zM249 531h1v1h-1zM369 531h1v1h-1zM379 531h4v1h-4zM386 531h1v1h-1zM481 531h1v1h-1zM487 531h2v1h-2zM548 531h3v1h-3zM555 531h3v1h-3zM650 531h2v1h-2zM692 531h1v1h-1zM694 531h2v1h-2zM699 531h3v1h-3zM724 531h3v1h-3zM757 531h2v1h-2zM762 531h1v1h-1zM781 531h5v1h-5zM802 531h2v1h-2zM810 531h1v1h-1zM818 531h1v1h-1zM897 531h1v1h-1zM906 531h1v1h-1zM916 531h1v1h-1zM920 531h3v1h-3zM31 532h1v1h-1zM42 532h2v1h-2zM76 532h7v1h-7zM121 532h5v1h-5zM150 532h1v1h-1zM167 532h1v1h-1zM197 532h1v1h-1zM227 532h4v1h-4zM240 532h1v1h-1zM250 532h1v1h-1zM368 532h1v1h-1zM383 532h3v1h-3zM481 532h2v1h-2zM486 532h1v1h-1zM558 532h1v1h-1zM581 532h2v1h-2zM645 532h5v1h-5zM693 532h1v1h-1zM763 532h1v1h-1zM769 532h1v1h-1zM780 532h1v1h-1zM804 532h6v1h-6zM819 532h1v1h-1zM895 532h2v1h-2zM898 532h2v1h-2zM903 532h3v1h-3zM916 532h1v1h-1zM918 532h2v1h-2zM32 533h1v1h-1zM39 533h3v1h-3zM151 533h1v1h-1zM167 533h1v1h-1zM231 533h3v1h-3zM239 533h1v1h-1zM251 533h2v1h-2zM368 533h1v1h-1zM483 533h3v1h-3zM559 533h2v1h-2zM573 533h1v1h-1zM579 533h2v1h-2zM583 533h3v1h-3zM644 533h1v1h-1zM763 533h1v1h-1zM767 533h2v1h-2zM770 533h1v1h-1zM779 533h1v1h-1zM820 533h1v1h-1zM894 533h1v1h-1zM900 533h3v1h-3zM917 533h1v1h-1zM33 534h6v1h-6zM152 534h1v1h-1zM166 534h1v1h-1zM234 534h2v1h-2zM238 534h1v1h-1zM253 534h2v1h-2zM367 534h1v1h-1zM561 534h1v1h-1zM572 534h1v1h-1zM574 534h2v1h-2zM578 534h1v1h-1zM586 534h1v1h-1zM643 534h1v1h-1zM764 534h1v1h-1zM766 534h1v1h-1zM771 534h1v1h-1zM778 534h1v1h-1zM821 534h1v1h-1zM893 534h1v1h-1zM153 535h1v1h-1zM166 535h1v1h-1zM236 535h2v1h-2zM255 535h4v1h-4zM367 535h1v1h-1zM562 535h1v1h-1zM572 535h1v1h-1zM576 535h2v1h-2zM587 535h1v1h-1zM643 535h1v1h-1zM765 535h1v1h-1zM772 535h1v1h-1zM775 535h3v1h-3zM822 535h1v1h-1zM892 535h1v1h-1zM154 536h2v1h-2zM163 536h3v1h-3zM259 536h4v1h-4zM361 536h1v1h-1zM366 536h1v1h-1zM562 536h1v1h-1zM571 536h1v1h-1zM588 536h1v1h-1zM637 536h2v1h-2zM642 536h1v1h-1zM773 536h2v1h-2zM823 536h2v1h-2zM892 536h1v1h-1zM156 537h7v1h-7zM263 537h7v1h-7zM359 537h2v1h-2zM362 537h2v1h-2zM366 537h1v1h-1zM563 537h1v1h-1zM570 537h1v1h-1zM589 537h9v1h-9zM636 537h1v1h-1zM639 537h3v1h-3zM825 537h2v1h-2zM891 537h1v1h-1zM270 538h1v1h-1zM358 538h1v1h-1zM364 538h2v1h-2zM564 538h1v1h-1zM570 538h1v1h-1zM598 538h1v1h-1zM635 538h1v1h-1zM827 538h7v1h-7zM879 538h3v1h-3zM891 538h1v1h-1zM271 539h2v1h-2zM352 539h6v1h-6zM564 539h1v1h-1zM567 539h3v1h-3zM599 539h1v1h-1zM635 539h1v1h-1zM834 539h2v1h-2zM876 539h3v1h-3zM882 539h2v1h-2zM890 539h1v1h-1zM273 540h1v1h-1zM336 540h2v1h-2zM350 540h2v1h-2zM565 540h2v1h-2zM600 540h1v1h-1zM613 540h6v1h-6zM634 540h1v1h-1zM836 540h10v1h-10zM874 540h2v1h-2zM884 540h3v1h-3zM890 540h1v1h-1zM274 541h1v1h-1zM280 541h7v1h-7zM334 541h2v1h-2zM338 541h2v1h-2zM348 541h2v1h-2zM601 541h1v1h-1zM611 541h2v1h-2zM619 541h4v1h-4zM631 541h3v1h-3zM846 541h2v1h-2zM861 541h6v1h-6zM871 541h3v1h-3zM887 541h3v1h-3zM275 542h2v1h-2zM278 542h2v1h-2zM287 542h3v1h-3zM331 542h3v1h-3zM340 542h3v1h-3zM346 542h2v1h-2zM602 542h2v1h-2zM610 542h1v1h-1zM623 542h8v1h-8zM848 542h2v1h-2zM859 542h2v1h-2zM867 542h4v1h-4zM277 543h1v1h-1zM290 543h2v1h-2zM323 543h8v1h-8zM343 543h3v1h-3zM604 543h6v1h-6zM850 543h2v1h-2zM858 543h1v1h-1zM292 544h2v1h-2zM321 544h2v1h-2zM852 544h6v1h-6zM294 545h1v1h-1zM320 545h1v1h-1zM295 546h2v1h-2zM299 546h8v1h-8zM319 546h1v1h-1zM297 547h2v1h-2zM307 547h7v1h-7zM319 547h1v1h-1zM314 548h2v1h-2zM318 548h1v1h-1zM316 549h2v1h-2z" fill="#1e90ff"/>
<path d="M8 33h7v1h-7zM9 34h5v1h-5zM10 35h3v1h-3zM11 36h1v1h-1z" fill="#000"/>
</svg>
<div class="box" style="left:4px;top:26px;width:1164px;height:393px"></div>
<div class="box" style="left:4px;top:420px;width:1164px;height:72px"></div>
<div class="box" style="left:4px;top:494px;width:1164px;height:75px"></div>
<div class="tk" style="top:52px"></div><div class="tk" style="top:118px"></div><div class="tk" style="top:151px"></div><div class="tk" style="top:184px"></div><div class="tk" style="top:217px"></div><div class="tk" style="top:250px"></div><div class="tk" style="top:283px"></div><div class="tk" style="top:316px"></div><div class="tk" style="top:349px"></div><div class="tk" style="top:382px"></div><div class="tk" style="top:415px"></div><div class="t" style="left:1172.80px;top:46.53px;font-size:10px;line-height:12px;letter-spacing:-0.520px;color:#000">1.29510</div><div class="t" style="left:1172.80px;top:112.53px;font-size:10px;line-height:12px;letter-spacing:-0.520px;color:#000">1.28280</div><div class="t" style="left:1172.80px;top:145.53px;font-size:10px;line-height:12px;letter-spacing:-0.520px;color:#000">1.27665</div><div class="t" style="left:1172.80px;top:178.53px;font-size:10px;line-height:12px;letter-spacing:-0.520px;color:#000">1.27050</div><div class="t" style="left:1172.80px;top:211.53px;font-size:10px;line-height:12px;letter-spacing:-0.520px;color:#000">1.26435</div><div class="t" style="left:1172.80px;top:244.53px;font-size:10px;line-height:12px;letter-spacing:-0.520px;color:#000">1.25820</div><div class="t" style="left:1172.80px;top:277.54px;font-size:10px;line-height:12px;letter-spacing:-0.520px;color:#000">1.25205</div><div class="t" style="left:1172.80px;top:310.54px;font-size:10px;line-height:12px;letter-spacing:-0.520px;color:#000">1.24590</div><div class="t" style="left:1172.80px;top:343.54px;font-size:10px;line-height:12px;letter-spacing:-0.520px;color:#000">1.23975</div><div class="t" style="left:1172.80px;top:376.54px;font-size:10px;line-height:12px;letter-spacing:-0.520px;color:#000">1.23360</div><div class="t" style="left:1172.80px;top:409.54px;font-size:10px;line-height:12px;letter-spacing:-0.520px;color:#000">1.22745</div><div class="tag" style="top:78px;background:#ff0000"></div><div class="tag" style="top:153px;background:#ff0000"></div><div class="tag" style="top:218px;background:#00ff00"></div><div class="tag" style="top:232px;background:#000"></div><div class="tag" style="top:299px;background:#0000ff"></div><div class="tag" style="top:385px;background:#0000ff"></div>
<div class="tk" style="top:459px"></div><div class="tk" style="top:517px"></div><div class="tk" style="top:546px"></div>
<div class="dtk" style="left:5px"></div><div class="dtk" style="left:69px"></div><div class="dtk" style="left:133px"></div><div class="dtk" style="left:197px"></div><div class="dtk" style="left:261px"></div><div class="dtk" style="left:325px"></div><div class="dtk" style="left:389px"></div><div class="dtk" style="left:453px"></div><div class="dtk" style="left:517px"></div><div class="dtk" style="left:581px"></div><div class="dtk" style="left:645px"></div><div class="dtk" style="left:709px"></div><div class="dtk" style="left:773px"></div><div class="dtk" style="left:837px"></div><div class="dtk" style="left:901px"></div>
<div id="tabsTop"></div><div id="tabs"></div><div id="act"></div><div class="tsep" style="left:106px"></div><div class="tsep" style="left:214px"></div><div class="tsep" style="left:323px"></div><div class="tsep" style="left:662px"></div><div class="tsep" style="left:770px"></div><div class="tsep" style="left:862px"></div><div class="tsep" style="left:950px"></div><div class="tsep" style="left:1034px"></div><div class="tsep" style="left:1114px"></div>
<div id="bot"></div><div id="botl"></div><div id="lft"></div><div id="lft2"></div>
<div class="t" style="left:1172.80px;top:421.54px;font-size:10px;line-height:12px;letter-spacing:-0.520px;color:#000">0.010127</div><div class="t" style="left:1172.80px;top:453.54px;font-size:10px;line-height:12px;letter-spacing:-0.520px;color:#000">0.00</div><div class="t" style="left:1171.80px;top:480.54px;font-size:10px;line-height:12px;letter-spacing:-0.520px;color:#000">-0.008939</div><div class="t" style="left:1172.80px;top:495.54px;font-size:10px;line-height:12px;letter-spacing:-0.520px;color:#000">100</div><div class="t" style="left:1172.80px;top:511.54px;font-size:10px;line-height:12px;letter-spacing:-0.520px;color:#000">70</div><div class="t" style="left:1172.80px;top:540.53px;font-size:10px;line-height:12px;letter-spacing:-0.520px;color:#000">30</div><div class="t" style="left:1172.80px;top:555.53px;font-size:10px;line-height:12px;letter-spacing:-0.520px;color:#000">0</div><div class="t" style="left:19.60px;top:28.54px;font-size:10px;line-height:12px;letter-spacing:-0.043px;color:#000">USDCAD-,Daily</div><div class="t" style="left:94.70px;top:28.54px;font-size:10px;line-height:12px;letter-spacing:-0.450px;color:#000">1.26069</div><div class="t" style="left:130.70px;top:28.54px;font-size:10px;line-height:12px;letter-spacing:-0.450px;color:#000">1.26197</div><div class="t" style="left:166.70px;top:28.54px;font-size:10px;line-height:12px;letter-spacing:-0.450px;color:#000">1.25889</div><div class="t" style="left:202.70px;top:28.54px;font-size:10px;line-height:12px;letter-spacing:-0.450px;color:#000">1.26065</div><div class="t" style="left:8.80px;top:423.04px;font-size:10px;line-height:12px;letter-spacing:-0.205px;color:#000">MACD(12,26,9)</div><div class="t" style="left:77.30px;top:423.04px;font-size:10px;line-height:12px;letter-spacing:-0.520px;color:#000">-0.000576</div><div class="t" style="left:121.80px;top:423.04px;font-size:10px;line-height:12px;letter-spacing:-0.520px;color:#000">-0.002394</div><div class="t" style="left:8.80px;top:497.84px;font-size:10px;line-height:12px;letter-spacing:-0.236px;color:#000">RSI(14)</div><div class="t" style="left:43.80px;top:497.84px;font-size:10px;line-height:12px;letter-spacing:-0.520px;color:#000">52.1501</div><div class="t" style="left:3.80px;top:571.53px;font-size:10px;line-height:12px;letter-spacing:-0.280px;color:#000">21 Jul 2021</div><div class="t" style="left:67.80px;top:571.53px;font-size:10px;line-height:12px;letter-spacing:-0.280px;color:#000">9 Aug 2021</div><div class="t" style="left:131.80px;top:571.53px;font-size:10px;line-height:12px;letter-spacing:-0.280px;color:#000">27 Aug 2021</div><div class="t" style="left:195.80px;top:571.53px;font-size:10px;line-height:12px;letter-spacing:-0.280px;color:#000">15 Sep 2021</div><div class="t" style="left:259.80px;top:571.53px;font-size:10px;line-height:12px;letter-spacing:-0.280px;color:#000">4 Oct 2021</div><div class="t" style="left:323.80px;top:571.53px;font-size:10px;line-height:12px;letter-spacing:-0.280px;color:#000">22 Oct 2021</div><div class="t" style="left:387.80px;top:571.53px;font-size:10px;line-height:12px;letter-spacing:-0.280px;color:#000">10 Nov 2021</div><div class="t" style="left:451.80px;top:571.53px;font-size:10px;line-height:12px;letter-spacing:-0.280px;color:#000">29 Nov 2021</div><div class="t" style="left:515.80px;top:571.53px;font-size:10px;line-height:12px;letter-spacing:-0.280px;color:#000">17 Dec 2021</div><div class="t" style="left:579.80px;top:571.53px;font-size:10px;line-height:12px;letter-spacing:-0.280px;color:#000">5 Jan 2022</div><div class="t" style="left:643.80px;top:571.53px;font-size:10px;line-height:12px;letter-spacing:-0.280px;color:#000">24 Jan 2022</div><div class="t" style="left:707.80px;top:571.53px;font-size:10px;line-height:12px;letter-spacing:-0.280px;color:#000">11 Feb 2022</div><div class="t" style="left:771.80px;top:571.53px;font-size:10px;line-height:12px;letter-spacing:-0.280px;color:#000">2 Mar 2022</div><div class="t" style="left:835.80px;top:571.53px;font-size:10px;line-height:12px;letter-spacing:-0.280px;color:#000">21 Mar 2022</div><div class="t" style="left:899.80px;top:571.53px;font-size:10px;line-height:12px;letter-spacing:-0.280px;color:#000">8 Apr 2022</div><div class="t" style="left:16.66px;top:594.84px;font-size:12px;line-height:14px;letter-spacing:0.297px;color:#6e6e6e">USDX,Weekly</div><div class="t" style="left:116.66px;top:594.84px;font-size:12px;line-height:14px;letter-spacing:0.106px;color:#6e6e6e">EURUSD-,Daily</div><div class="t" style="left:223.36px;top:594.84px;font-size:12px;line-height:14px;letter-spacing:0.244px;color:#6e6e6e">AUDUSD-,Daily</div><div class="t" style="left:333.36px;top:594.84px;font-size:12px;line-height:14px;letter-spacing:0.066px;color:#6e6e6e">USDCHF-,Daily</div><div class="t" style="left:440.36px;top:594.84px;font-size:12px;line-height:14px;letter-spacing:0.206px;color:#000">USDCAD-,Daily</div><div class="t" style="left:548.66px;top:594.84px;font-size:12px;line-height:14px;letter-spacing:0.355px;color:#6e6e6e">USDCNH-,Weekly</div><div class="t" style="left:672.16px;top:594.84px;font-size:12px;line-height:14px;letter-spacing:0.250px;color:#6e6e6e">XAUUSD-,Daily</div><div class="t" style="left:780.36px;top:594.84px;font-size:12px;line-height:14px;letter-spacing:0.376px;color:#6e6e6e">UKOil-,Daily</div><div class="t" style="left:873.66px;top:594.84px;font-size:12px;line-height:14px;letter-spacing:0.249px;color:#6e6e6e">DJ30-,Daily</div><div class="t" style="left:960.36px;top:594.84px;font-size:12px;line-height:14px;letter-spacing:0.443px;color:#6e6e6e">UK100-,H1</div><div class="t" style="left:1045.36px;top:594.84px;font-size:12px;line-height:14px;letter-spacing:0.316px;color:#6e6e6e">USOil-,H1</div><div class="t" style="left:1123.66px;top:594.84px;font-size:12px;line-height:14px;letter-spacing:0.234px;color:#6e6e6e">HK50-,H1</div><div class="t" style="left:15.91px;top:5.10px;font-size:9.8px;line-height:11.8px;letter-spacing:-0.130px;color:#484848">M30</div><div class="t" style="left:46.91px;top:5.10px;font-size:9.8px;line-height:11.8px;letter-spacing:0.171px;color:#484848">H1</div><div class="t" style="left:74.21px;top:5.10px;font-size:9.8px;line-height:11.8px;letter-spacing:0.371px;color:#484848">H4</div><div class="t" style="left:103.01px;top:5.10px;font-size:9.8px;line-height:11.8px;letter-spacing:0.121px;color:#484848">D1</div><div class="t" style="left:130.31px;top:5.10px;font-size:9.8px;line-height:11.8px;letter-spacing:0.285px;color:#484848">W1</div><div class="t" style="left:157.21px;top:5.10px;font-size:9.8px;line-height:11.8px;letter-spacing:0.262px;color:#484848">MN</div><div class="t" style="left:-5.09px;top:5.10px;font-size:9.8px;line-height:11.8px;letter-spacing:0.284px;color:#484848">15</div><div class="t" style="left:1172.80px;top:77.53px;font-size:10px;line-height:12px;letter-spacing:-0.520px;color:#fff">1.28912</div><div class="t" style="left:1172.80px;top:152.53px;font-size:10px;line-height:12px;letter-spacing:-0.520px;color:#fff">1.27515</div><div class="t" style="left:1172.80px;top:217.53px;font-size:10px;line-height:12px;letter-spacing:-0.520px;color:#fff">1.26303</div><div class="t" style="left:1172.80px;top:231.53px;font-size:10px;line-height:12px;letter-spacing:-0.520px;color:#fff">1.26065</div><div class="t" style="left:1172.80px;top:298.54px;font-size:10px;line-height:12px;letter-spacing:-0.520px;color:#fff">1.24800</div><div class="t" style="left:1172.80px;top:384.54px;font-size:10px;line-height:12px;letter-spacing:-0.520px;color:#fff">1.23203</div>
<svg width="1208" height="618" viewBox="0 0 1208 618" style="pointer-events:none">
<polygon points="1182.3,600.5 1186,597.5 1186,603.5" fill="#8a8a8a"/>
<polygon points="1202,596.5 1206,600.5 1202,604.5" fill="#000"/>
</svg>
</body></html>
